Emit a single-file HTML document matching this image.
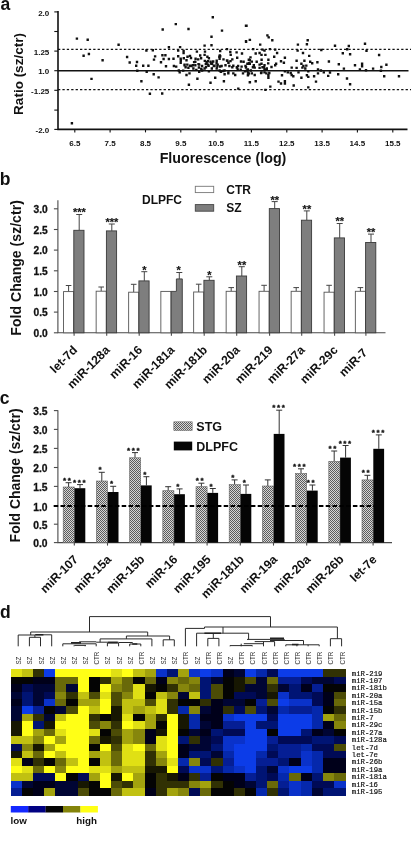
<!DOCTYPE html>
<html><head><meta charset="utf-8"><title>Figure</title>
<style>html,body{margin:0;padding:0;background:#fff}svg{display:block}text{font-family:"Liberation Sans", sans-serif;fill:#111}</style>
</head><body>
<svg width="411" height="859" viewBox="0 0 411 859">
<rect width="411" height="859" fill="#fff"/>
<g id="pa">
<text x="0.5" y="9.9" font-size="17.5" font-weight="bold">a</text>
<path d="M58.0 11V130.20000000000002M58.0 129.4H407.5" stroke="#111" stroke-width="1.6" fill="none"/>
<path d="M54.3 11.9H58.0" stroke="#111" stroke-width="1.1"/>
<text x="49.3" y="15.6" font-size="8" font-weight="bold" text-anchor="end">2.0</text>
<path d="M54.3 31.5H58.0" stroke="#111" stroke-width="1.1"/>
<path d="M54.3 51.1H58.0" stroke="#111" stroke-width="1.1"/>
<text x="49.3" y="54.8" font-size="8" font-weight="bold" text-anchor="end">1.25</text>
<path d="M54.3 70.7H58.0" stroke="#111" stroke-width="1.1"/>
<text x="49.3" y="74.4" font-size="8" font-weight="bold" text-anchor="end">1.0</text>
<path d="M54.3 90.3H58.0" stroke="#111" stroke-width="1.1"/>
<text x="49.3" y="94.0" font-size="8" font-weight="bold" text-anchor="end">-1.25</text>
<path d="M54.3 110.1H58.0" stroke="#111" stroke-width="1.1"/>
<path d="M54.3 129.4H58.0" stroke="#111" stroke-width="1.1"/>
<text x="49.3" y="133.1" font-size="8" font-weight="bold" text-anchor="end">-2.0</text>
<path d="M74.8 129.4V132.4" stroke="#111" stroke-width="1.1"/>
<text x="74.8" y="146.4" font-size="8" font-weight="bold" text-anchor="middle">6.5</text>
<path d="M110.1 129.4V132.4" stroke="#111" stroke-width="1.1"/>
<text x="110.1" y="146.4" font-size="8" font-weight="bold" text-anchor="middle">7.5</text>
<path d="M145.5 129.4V132.4" stroke="#111" stroke-width="1.1"/>
<text x="145.5" y="146.4" font-size="8" font-weight="bold" text-anchor="middle">8.5</text>
<path d="M180.8 129.4V132.4" stroke="#111" stroke-width="1.1"/>
<text x="180.8" y="146.4" font-size="8" font-weight="bold" text-anchor="middle">9.5</text>
<path d="M216.1 129.4V132.4" stroke="#111" stroke-width="1.1"/>
<text x="216.1" y="146.4" font-size="8" font-weight="bold" text-anchor="middle">10.5</text>
<path d="M251.4 129.4V132.4" stroke="#111" stroke-width="1.1"/>
<text x="251.4" y="146.4" font-size="8" font-weight="bold" text-anchor="middle">11.5</text>
<path d="M286.8 129.4V132.4" stroke="#111" stroke-width="1.1"/>
<text x="286.8" y="146.4" font-size="8" font-weight="bold" text-anchor="middle">12.5</text>
<path d="M322.1 129.4V132.4" stroke="#111" stroke-width="1.1"/>
<text x="322.1" y="146.4" font-size="8" font-weight="bold" text-anchor="middle">13.5</text>
<path d="M357.4 129.4V132.4" stroke="#111" stroke-width="1.1"/>
<text x="357.4" y="146.4" font-size="8" font-weight="bold" text-anchor="middle">14.5</text>
<path d="M392.8 129.4V132.4" stroke="#111" stroke-width="1.1"/>
<text x="392.8" y="146.4" font-size="8" font-weight="bold" text-anchor="middle">15.5</text>
<path d="M58.0 70.7H408.5" stroke="#111" stroke-width="1.5"/>
<path d="M58.0 49.3H411M58.0 89.6H411" stroke="#111" stroke-width="1.35" stroke-dasharray="2.3 2.1"/>
<text transform="translate(23.1,74) rotate(-90)" font-size="13.5" font-weight="bold" text-anchor="middle">Ratio (sz/ctr)</text>
<text x="223" y="163.3" font-size="14.25" font-weight="bold" text-anchor="middle">Fluorescence (log)</text>
<path d="M75.7 37.4h2.4v2.4h-2.4zM86.5 38.5h2.4v2.4h-2.4zM82.4 54.6h2.4v2.4h-2.4zM87.7 52.8h2.4v2.4h-2.4zM101.4 59.0h2.4v2.4h-2.4zM90.3 77.7h2.4v2.4h-2.4zM70.7 122.0h2.4v2.4h-2.4zM117.4 43.5h2.4v2.4h-2.4zM125.9 55.8h2.4v2.4h-2.4zM128.5 61.3h2.4v2.4h-2.4zM135.8 60.8h2.4v2.4h-2.4zM135.0 64.5h2.4v2.4h-2.4zM142.0 64.5h2.4v2.4h-2.4zM147.2 64.5h2.4v2.4h-2.4zM136.1 69.5h2.4v2.4h-2.4zM145.5 70.7h2.4v2.4h-2.4zM140.2 80.0h2.4v2.4h-2.4zM152.5 73.0h2.4v2.4h-2.4zM157.4 76.2h2.4v2.4h-2.4zM148.7 92.6h2.4v2.4h-2.4zM161.0 92.3h2.4v2.4h-2.4zM145.2 49.3h2.4v2.4h-2.4zM151.6 49.1h2.4v2.4h-2.4zM153.9 55.2h2.4v2.4h-2.4zM152.8 58.4h2.4v2.4h-2.4zM161.5 28.3h2.4v2.4h-2.4zM167.7 46.1h2.4v2.4h-2.4zM161.2 54.0h2.4v2.4h-2.4zM164.2 54.0h2.4v2.4h-2.4zM162.4 57.8h2.4v2.4h-2.4zM159.8 61.0h2.4v2.4h-2.4zM167.7 57.8h2.4v2.4h-2.4zM164.8 65.1h2.4v2.4h-2.4zM211.6 16.1h2.4v2.4h-2.4zM174.6 22.9h2.4v2.4h-2.4zM187.3 27.8h2.4v2.4h-2.4zM220.8 29.4h2.4v2.4h-2.4zM245.3 24.5h2.4v2.4h-2.4zM210.3 35.6h2.4v2.4h-2.4zM244.9 40.5h2.4v2.4h-2.4zM248.6 38.7h2.4v2.4h-2.4zM203.4 44.4h2.4v2.4h-2.4zM210.3 44.0h2.4v2.4h-2.4zM178.9 45.9h2.4v2.4h-2.4zM177.0 49.4h2.4v2.4h-2.4zM182.4 49.8h2.4v2.4h-2.4zM182.4 51.8h2.4v2.4h-2.4zM195.7 50.4h2.4v2.4h-2.4zM203.8 50.4h2.4v2.4h-2.4zM225.8 47.9h2.4v2.4h-2.4zM219.0 49.8h2.4v2.4h-2.4zM229.1 50.8h2.4v2.4h-2.4zM235.4 51.2h2.4v2.4h-2.4zM240.8 52.3h2.4v2.4h-2.4zM199.0 54.3h2.4v2.4h-2.4zM203.4 53.7h2.4v2.4h-2.4zM188.8 54.7h2.4v2.4h-2.4zM186.3 55.6h2.4v2.4h-2.4zM177.0 55.1h2.4v2.4h-2.4zM206.2 55.6h2.4v2.4h-2.4zM219.0 55.1h2.4v2.4h-2.4zM229.5 53.7h2.4v2.4h-2.4zM172.3 57.6h2.4v2.4h-2.4zM179.5 57.6h2.4v2.4h-2.4zM185.3 59.0h2.4v2.4h-2.4zM194.1 60.5h2.4v2.4h-2.4zM197.0 58.2h2.4v2.4h-2.4zM199.9 57.0h2.4v2.4h-2.4zM207.7 57.0h2.4v2.4h-2.4zM215.5 59.5h2.4v2.4h-2.4zM218.4 57.6h2.4v2.4h-2.4zM222.3 58.2h2.4v2.4h-2.4zM226.2 59.5h2.4v2.4h-2.4zM227.2 61.5h2.4v2.4h-2.4zM231.1 58.2h2.4v2.4h-2.4zM236.0 56.6h2.4v2.4h-2.4zM242.4 60.5h2.4v2.4h-2.4zM247.6 58.6h2.4v2.4h-2.4zM172.7 64.8h2.4v2.4h-2.4zM175.0 65.4h2.4v2.4h-2.4zM183.4 63.4h2.4v2.4h-2.4zM184.4 66.0h2.4v2.4h-2.4zM190.2 64.8h2.4v2.4h-2.4zM194.1 64.0h2.4v2.4h-2.4zM198.0 63.4h2.4v2.4h-2.4zM200.9 64.8h2.4v2.4h-2.4zM204.8 66.0h2.4v2.4h-2.4zM210.6 62.5h2.4v2.4h-2.4zM212.6 64.8h2.4v2.4h-2.4zM216.5 63.4h2.4v2.4h-2.4zM220.4 64.8h2.4v2.4h-2.4zM224.3 64.0h2.4v2.4h-2.4zM228.2 64.8h2.4v2.4h-2.4zM231.1 66.0h2.4v2.4h-2.4zM236.9 64.8h2.4v2.4h-2.4zM244.3 64.8h2.4v2.4h-2.4zM248.6 62.5h2.4v2.4h-2.4zM177.6 69.3h2.4v2.4h-2.4zM178.5 71.2h2.4v2.4h-2.4zM192.2 67.3h2.4v2.4h-2.4zM195.1 68.7h2.4v2.4h-2.4zM198.0 70.6h2.4v2.4h-2.4zM200.9 69.3h2.4v2.4h-2.4zM207.7 70.2h2.4v2.4h-2.4zM210.6 67.3h2.4v2.4h-2.4zM218.4 69.3h2.4v2.4h-2.4zM223.3 69.3h2.4v2.4h-2.4zM227.2 71.2h2.4v2.4h-2.4zM232.1 72.2h2.4v2.4h-2.4zM234.0 73.8h2.4v2.4h-2.4zM236.5 68.3h2.4v2.4h-2.4zM241.8 72.2h2.4v2.4h-2.4zM245.7 69.3h2.4v2.4h-2.4zM247.6 72.2h2.4v2.4h-2.4zM188.3 72.2h2.4v2.4h-2.4zM203.4 67.3h2.4v2.4h-2.4zM215.5 67.3h2.4v2.4h-2.4zM196.2 77.6h2.4v2.4h-2.4zM214.0 76.5h2.4v2.4h-2.4zM187.7 83.5h2.4v2.4h-2.4zM209.3 81.5h2.4v2.4h-2.4zM222.7 80.0h2.4v2.4h-2.4zM237.1 87.4h2.4v2.4h-2.4zM248.6 81.0h2.4v2.4h-2.4zM244.8 24.5h2.4v2.4h-2.4zM266.2 34.2h2.4v2.4h-2.4zM267.5 36.2h2.4v2.4h-2.4zM271.1 39.1h2.4v2.4h-2.4zM248.7 38.7h2.4v2.4h-2.4zM244.8 40.1h2.4v2.4h-2.4zM259.0 43.4h2.4v2.4h-2.4zM296.7 43.4h2.4v2.4h-2.4zM306.5 39.1h2.4v2.4h-2.4zM305.7 43.0h2.4v2.4h-2.4zM252.0 47.9h2.4v2.4h-2.4zM261.3 48.4h2.4v2.4h-2.4zM263.3 49.4h2.4v2.4h-2.4zM268.7 47.9h2.4v2.4h-2.4zM274.0 48.4h2.4v2.4h-2.4zM296.4 49.4h2.4v2.4h-2.4zM320.1 48.8h2.4v2.4h-2.4zM254.5 52.3h2.4v2.4h-2.4zM258.4 51.8h2.4v2.4h-2.4zM260.3 53.7h2.4v2.4h-2.4zM264.2 53.7h2.4v2.4h-2.4zM275.9 51.8h2.4v2.4h-2.4zM301.8 51.8h2.4v2.4h-2.4zM308.0 54.7h2.4v2.4h-2.4zM249.3 56.2h2.4v2.4h-2.4zM248.7 59.0h2.4v2.4h-2.4zM255.5 60.5h2.4v2.4h-2.4zM267.2 58.6h2.4v2.4h-2.4zM273.0 55.6h2.4v2.4h-2.4zM283.7 56.6h2.4v2.4h-2.4zM295.4 59.5h2.4v2.4h-2.4zM279.8 60.1h2.4v2.4h-2.4zM282.7 61.5h2.4v2.4h-2.4zM303.2 59.5h2.4v2.4h-2.4zM309.0 60.5h2.4v2.4h-2.4zM311.0 62.1h2.4v2.4h-2.4zM316.2 61.1h2.4v2.4h-2.4zM247.7 62.1h2.4v2.4h-2.4zM252.6 64.0h2.4v2.4h-2.4zM258.4 63.4h2.4v2.4h-2.4zM260.3 62.5h2.4v2.4h-2.4zM263.3 64.0h2.4v2.4h-2.4zM274.0 64.0h2.4v2.4h-2.4zM300.2 62.5h2.4v2.4h-2.4zM302.2 64.8h2.4v2.4h-2.4zM305.1 64.4h2.4v2.4h-2.4zM244.8 66.4h2.4v2.4h-2.4zM246.7 68.3h2.4v2.4h-2.4zM249.6 69.3h2.4v2.4h-2.4zM253.5 66.4h2.4v2.4h-2.4zM258.4 66.7h2.4v2.4h-2.4zM261.3 66.0h2.4v2.4h-2.4zM263.3 68.3h2.4v2.4h-2.4zM265.6 67.3h2.4v2.4h-2.4zM290.5 66.4h2.4v2.4h-2.4zM295.4 66.7h2.4v2.4h-2.4zM301.2 66.4h2.4v2.4h-2.4zM304.1 67.3h2.4v2.4h-2.4zM243.8 70.2h2.4v2.4h-2.4zM246.7 71.2h2.4v2.4h-2.4zM250.6 72.2h2.4v2.4h-2.4zM260.3 71.2h2.4v2.4h-2.4zM263.3 71.2h2.4v2.4h-2.4zM265.2 72.2h2.4v2.4h-2.4zM268.1 71.8h2.4v2.4h-2.4zM283.7 70.2h2.4v2.4h-2.4zM286.6 71.2h2.4v2.4h-2.4zM289.5 71.8h2.4v2.4h-2.4zM297.3 71.2h2.4v2.4h-2.4zM307.1 70.2h2.4v2.4h-2.4zM316.8 68.3h2.4v2.4h-2.4zM319.7 69.3h2.4v2.4h-2.4zM322.6 71.2h2.4v2.4h-2.4zM316.8 72.2h2.4v2.4h-2.4zM246.7 74.1h2.4v2.4h-2.4zM253.5 73.8h2.4v2.4h-2.4zM267.2 74.1h2.4v2.4h-2.4zM267.2 76.5h2.4v2.4h-2.4zM280.8 74.1h2.4v2.4h-2.4zM290.5 73.8h2.4v2.4h-2.4zM292.1 75.1h2.4v2.4h-2.4zM300.2 76.5h2.4v2.4h-2.4zM305.7 74.1h2.4v2.4h-2.4zM307.1 75.7h2.4v2.4h-2.4zM312.9 75.1h2.4v2.4h-2.4zM248.7 81.0h2.4v2.4h-2.4zM254.5 80.0h2.4v2.4h-2.4zM277.3 80.4h2.4v2.4h-2.4zM279.8 82.3h2.4v2.4h-2.4zM283.7 80.0h2.4v2.4h-2.4zM283.7 82.3h2.4v2.4h-2.4zM292.5 84.3h2.4v2.4h-2.4zM314.8 80.4h2.4v2.4h-2.4zM269.1 85.4h2.4v2.4h-2.4zM264.2 88.7h2.4v2.4h-2.4zM307.1 86.2h2.4v2.4h-2.4zM333.8 44.5h2.4v2.4h-2.4zM347.6 44.8h2.4v2.4h-2.4zM346.0 48.1h2.4v2.4h-2.4zM363.8 42.5h2.4v2.4h-2.4zM365.3 49.6h2.4v2.4h-2.4zM341.6 52.1h2.4v2.4h-2.4zM348.9 53.0h2.4v2.4h-2.4zM377.9 53.8h2.4v2.4h-2.4zM327.7 60.3h2.4v2.4h-2.4zM337.6 63.1h2.4v2.4h-2.4zM353.8 64.0h2.4v2.4h-2.4zM360.9 62.5h2.4v2.4h-2.4zM360.9 65.1h2.4v2.4h-2.4zM385.2 63.6h2.4v2.4h-2.4zM380.1 65.8h2.4v2.4h-2.4zM342.7 67.4h2.4v2.4h-2.4zM358.7 68.2h2.4v2.4h-2.4zM364.8 69.1h2.4v2.4h-2.4zM371.9 67.4h2.4v2.4h-2.4zM379.7 69.6h2.4v2.4h-2.4zM328.8 71.3h2.4v2.4h-2.4zM327.0 74.7h2.4v2.4h-2.4zM337.0 73.1h2.4v2.4h-2.4zM383.0 75.1h2.4v2.4h-2.4zM397.8 75.1h2.4v2.4h-2.4zM345.8 77.3h2.4v2.4h-2.4zM348.9 83.1h2.4v2.4h-2.4zM200.1 67.7h2.4v2.4h-2.4zM182.0 69.4h2.4v2.4h-2.4zM215.4 62.1h2.4v2.4h-2.4zM213.3 64.6h2.4v2.4h-2.4zM179.5 61.5h2.4v2.4h-2.4zM183.3 64.1h2.4v2.4h-2.4zM207.4 64.5h2.4v2.4h-2.4zM192.9 60.9h2.4v2.4h-2.4zM222.0 69.8h2.4v2.4h-2.4zM205.4 61.1h2.4v2.4h-2.4zM247.1 73.1h2.4v2.4h-2.4zM197.7 66.3h2.4v2.4h-2.4zM187.2 66.6h2.4v2.4h-2.4zM235.6 66.3h2.4v2.4h-2.4zM189.8 56.8h2.4v2.4h-2.4zM203.6 59.7h2.4v2.4h-2.4zM216.2 65.0h2.4v2.4h-2.4zM191.6 64.0h2.4v2.4h-2.4zM225.8 59.2h2.4v2.4h-2.4zM219.0 65.3h2.4v2.4h-2.4zM209.4 60.5h2.4v2.4h-2.4zM227.1 72.1h2.4v2.4h-2.4zM194.4 57.6h2.4v2.4h-2.4zM239.8 60.4h2.4v2.4h-2.4zM229.3 59.9h2.4v2.4h-2.4zM185.3 73.8h2.4v2.4h-2.4zM206.9 63.4h2.4v2.4h-2.4zM212.0 60.3h2.4v2.4h-2.4zM179.6 59.0h2.4v2.4h-2.4zM218.1 55.6h2.4v2.4h-2.4zM239.8 60.2h2.4v2.4h-2.4zM219.6 70.7h2.4v2.4h-2.4zM218.6 54.3h2.4v2.4h-2.4zM244.8 66.0h2.4v2.4h-2.4zM210.9 62.4h2.4v2.4h-2.4zM227.3 61.7h2.4v2.4h-2.4zM223.4 73.0h2.4v2.4h-2.4zM197.3 62.9h2.4v2.4h-2.4zM204.6 62.8h2.4v2.4h-2.4zM210.0 62.3h2.4v2.4h-2.4zM188.9 64.6h2.4v2.4h-2.4zM232.1 64.5h2.4v2.4h-2.4zM186.1 63.4h2.4v2.4h-2.4zM239.5 68.5h2.4v2.4h-2.4zM182.6 57.1h2.4v2.4h-2.4zM240.4 65.4h2.4v2.4h-2.4zM235.8 66.1h2.4v2.4h-2.4zM206.7 60.1h2.4v2.4h-2.4zM259.9 71.8h2.4v2.4h-2.4zM250.6 60.4h2.4v2.4h-2.4zM251.7 66.1h2.4v2.4h-2.4zM265.6 68.1h2.4v2.4h-2.4zM270.3 65.8h2.4v2.4h-2.4zM262.7 66.1h2.4v2.4h-2.4zM260.4 58.6h2.4v2.4h-2.4zM274.9 62.6h2.4v2.4h-2.4zM267.0 62.2h2.4v2.4h-2.4zM246.2 62.6h2.4v2.4h-2.4z" fill="#111"/>
</g>
<g id="pb">
<text x="-0.3" y="184.8" font-size="17.5" font-weight="bold">b</text>
<path d="M57.9 200.3V332.8H385.5" stroke="#4a4a4a" stroke-width="1.1" fill="none"/>
<path d="M53.9 332.8H57.9" stroke="#4a4a4a" stroke-width="1.1"/>
<text x="47.7" y="337.1" font-size="11.2" font-weight="bold" text-anchor="end" textLength="14.2" lengthAdjust="spacingAndGlyphs" stroke="#111" stroke-width="0.3">0.0</text>
<path d="M53.9 312.1H57.9" stroke="#4a4a4a" stroke-width="1.1"/>
<text x="47.7" y="316.4" font-size="11.2" font-weight="bold" text-anchor="end" textLength="14.2" lengthAdjust="spacingAndGlyphs" stroke="#111" stroke-width="0.3">0.5</text>
<path d="M53.9 291.5H57.9" stroke="#4a4a4a" stroke-width="1.1"/>
<text x="47.7" y="295.8" font-size="11.2" font-weight="bold" text-anchor="end" textLength="14.2" lengthAdjust="spacingAndGlyphs" stroke="#111" stroke-width="0.3">1.0</text>
<path d="M53.9 270.8H57.9" stroke="#4a4a4a" stroke-width="1.1"/>
<text x="47.7" y="275.1" font-size="11.2" font-weight="bold" text-anchor="end" textLength="14.2" lengthAdjust="spacingAndGlyphs" stroke="#111" stroke-width="0.3">1.5</text>
<path d="M53.9 250.1H57.9" stroke="#4a4a4a" stroke-width="1.1"/>
<text x="47.7" y="254.4" font-size="11.2" font-weight="bold" text-anchor="end" textLength="14.2" lengthAdjust="spacingAndGlyphs" stroke="#111" stroke-width="0.3">2.0</text>
<path d="M53.9 229.5H57.9" stroke="#4a4a4a" stroke-width="1.1"/>
<text x="47.7" y="233.8" font-size="11.2" font-weight="bold" text-anchor="end" textLength="14.2" lengthAdjust="spacingAndGlyphs" stroke="#111" stroke-width="0.3">2.5</text>
<path d="M53.9 208.8H57.9" stroke="#4a4a4a" stroke-width="1.1"/>
<text x="47.7" y="213.1" font-size="11.2" font-weight="bold" text-anchor="end" textLength="14.2" lengthAdjust="spacingAndGlyphs" stroke="#111" stroke-width="0.3">3.0</text>
<text transform="translate(20.9,267.9) rotate(-90)" font-size="14.1" font-weight="bold" text-anchor="middle">Fold Change (sz/ctr)</text>
<path d="M68.6 291.6V285.5M65.8 285.5h5.6" stroke="#444" stroke-width="1" fill="none"/>
<path d="M79.2 230.3V214.5M76.2 214.5h6" stroke="#444" stroke-width="1" fill="none"/>
<rect x="63.55" y="291.6" width="10.1" height="41.2" fill="#fff" stroke="#555" stroke-width="0.9"/>
<rect x="73.80" y="230.3" width="10.2" height="102.5" fill="#7e7e7e" stroke="#3a3a3a" stroke-width="0.9"/>
<text x="79.3" y="216.4" font-size="11" font-weight="bold" text-anchor="middle" stroke="#111" stroke-width="0.15">***</text>
<path d="M74.1 332.8v3" stroke="#4a4a4a" stroke-width="1.1"/>
<text transform="translate(78.0,350.8) rotate(-45)" font-size="12.2" font-weight="bold" text-anchor="end">let-7d</text>
<path d="M101.2 291.2V287M98.4 287h5.6" stroke="#444" stroke-width="1" fill="none"/>
<path d="M111.8 230.9V224M108.8 224h6" stroke="#444" stroke-width="1" fill="none"/>
<rect x="96.15" y="291.2" width="10.1" height="41.6" fill="#fff" stroke="#555" stroke-width="0.9"/>
<rect x="106.40" y="230.9" width="10.2" height="101.9" fill="#7e7e7e" stroke="#3a3a3a" stroke-width="0.9"/>
<text x="111.9" y="225.9" font-size="11" font-weight="bold" text-anchor="middle" stroke="#111" stroke-width="0.15">***</text>
<path d="M106.7 332.8v3" stroke="#4a4a4a" stroke-width="1.1"/>
<text transform="translate(110.6,350.8) rotate(-45)" font-size="12.2" font-weight="bold" text-anchor="end">miR-128a</text>
<path d="M133.7 292.2V284.3M130.9 284.3h5.6" stroke="#444" stroke-width="1" fill="none"/>
<path d="M144.3 280.9V271.7M141.3 271.7h6" stroke="#444" stroke-width="1" fill="none"/>
<rect x="128.65" y="292.2" width="10.1" height="40.6" fill="#fff" stroke="#555" stroke-width="0.9"/>
<rect x="138.90" y="280.9" width="10.2" height="51.9" fill="#7e7e7e" stroke="#3a3a3a" stroke-width="0.9"/>
<text x="144.4" y="273.6" font-size="11" font-weight="bold" text-anchor="middle" stroke="#111" stroke-width="0.15">*</text>
<path d="M139.2 332.8v3" stroke="#4a4a4a" stroke-width="1.1"/>
<text transform="translate(143.1,350.8) rotate(-45)" font-size="12.2" font-weight="bold" text-anchor="end">miR-16</text>
<path d="M179.3 278.9V272.5M176.3 272.5h6" stroke="#444" stroke-width="1" fill="none"/>
<rect x="160.85" y="291.4" width="10.1" height="41.4" fill="#fff" stroke="#555" stroke-width="0.9"/>
<path d="M171.2 332.8V291.4H176.4V278.9H182.3V332.8z" fill="#7e7e7e" stroke="#3a3a3a" stroke-width="0.9"/>
<text x="178.6" y="274.4" font-size="11" font-weight="bold" text-anchor="middle" stroke="#111" stroke-width="0.15">*</text>
<path d="M171.4 332.8v3" stroke="#4a4a4a" stroke-width="1.1"/>
<text transform="translate(175.3,350.8) rotate(-45)" font-size="12.2" font-weight="bold" text-anchor="end">miR-181a</text>
<path d="M198.7 292V284.2M195.9 284.2h5.6" stroke="#444" stroke-width="1" fill="none"/>
<path d="M209.3 280.3V276.8M206.3 276.8h6" stroke="#444" stroke-width="1" fill="none"/>
<rect x="193.65" y="292" width="10.1" height="40.8" fill="#fff" stroke="#555" stroke-width="0.9"/>
<rect x="203.90" y="280.3" width="10.2" height="52.5" fill="#7e7e7e" stroke="#3a3a3a" stroke-width="0.9"/>
<text x="209.4" y="278.7" font-size="11" font-weight="bold" text-anchor="middle" stroke="#111" stroke-width="0.15">*</text>
<path d="M204.2 332.8v3" stroke="#4a4a4a" stroke-width="1.1"/>
<text transform="translate(208.1,350.8) rotate(-45)" font-size="12.2" font-weight="bold" text-anchor="end">miR-181b</text>
<path d="M231.2 291.3V287.6M228.4 287.6h5.6" stroke="#444" stroke-width="1" fill="none"/>
<path d="M241.8 276V266.7M238.8 266.7h6" stroke="#444" stroke-width="1" fill="none"/>
<rect x="226.15" y="291.3" width="10.1" height="41.5" fill="#fff" stroke="#555" stroke-width="0.9"/>
<rect x="236.40" y="276" width="10.2" height="56.8" fill="#7e7e7e" stroke="#3a3a3a" stroke-width="0.9"/>
<text x="241.9" y="268.6" font-size="11" font-weight="bold" text-anchor="middle" stroke="#111" stroke-width="0.15">**</text>
<path d="M236.7 332.8v3" stroke="#4a4a4a" stroke-width="1.1"/>
<text transform="translate(240.6,350.8) rotate(-45)" font-size="12.2" font-weight="bold" text-anchor="end">miR-20a</text>
<path d="M264.1 291.3V285.3M261.3 285.3h5.6" stroke="#444" stroke-width="1" fill="none"/>
<path d="M274.7 208.6V201.6M271.7 201.6h6" stroke="#444" stroke-width="1" fill="none"/>
<rect x="259.05" y="291.3" width="10.1" height="41.5" fill="#fff" stroke="#555" stroke-width="0.9"/>
<rect x="269.30" y="208.6" width="10.2" height="124.2" fill="#7e7e7e" stroke="#3a3a3a" stroke-width="0.9"/>
<text x="274.8" y="203.5" font-size="11" font-weight="bold" text-anchor="middle" stroke="#111" stroke-width="0.15">**</text>
<path d="M269.6 332.8v3" stroke="#4a4a4a" stroke-width="1.1"/>
<text transform="translate(273.5,350.8) rotate(-45)" font-size="12.2" font-weight="bold" text-anchor="end">miR-219</text>
<path d="M296.2 291.3V287.6M293.4 287.6h5.6" stroke="#444" stroke-width="1" fill="none"/>
<path d="M306.8 220.2V210.9M303.8 210.9h6" stroke="#444" stroke-width="1" fill="none"/>
<rect x="291.15" y="291.3" width="10.1" height="41.5" fill="#fff" stroke="#555" stroke-width="0.9"/>
<rect x="301.40" y="220.2" width="10.2" height="112.6" fill="#7e7e7e" stroke="#3a3a3a" stroke-width="0.9"/>
<text x="306.9" y="212.8" font-size="11" font-weight="bold" text-anchor="middle" stroke="#111" stroke-width="0.15">**</text>
<path d="M301.7 332.8v3" stroke="#4a4a4a" stroke-width="1.1"/>
<text transform="translate(305.6,350.8) rotate(-45)" font-size="12.2" font-weight="bold" text-anchor="end">miR-27a</text>
<path d="M329.1 292.2V285.3M326.3 285.3h5.6" stroke="#444" stroke-width="1" fill="none"/>
<path d="M339.7 237.9V223.5M336.7 223.5h6" stroke="#444" stroke-width="1" fill="none"/>
<rect x="324.05" y="292.2" width="10.1" height="40.6" fill="#fff" stroke="#555" stroke-width="0.9"/>
<rect x="334.30" y="237.9" width="10.2" height="94.9" fill="#7e7e7e" stroke="#3a3a3a" stroke-width="0.9"/>
<text x="339.8" y="225.4" font-size="11" font-weight="bold" text-anchor="middle" stroke="#111" stroke-width="0.15">**</text>
<path d="M334.6 332.8v3" stroke="#4a4a4a" stroke-width="1.1"/>
<text transform="translate(338.5,350.8) rotate(-45)" font-size="12.2" font-weight="bold" text-anchor="end">miR-29c</text>
<path d="M360.4 291.3V287.6M357.6 287.6h5.6" stroke="#444" stroke-width="1" fill="none"/>
<path d="M371.0 242.5V234.1M368.0 234.1h6" stroke="#444" stroke-width="1" fill="none"/>
<rect x="355.35" y="291.3" width="10.1" height="41.5" fill="#fff" stroke="#555" stroke-width="0.9"/>
<rect x="365.60" y="242.5" width="10.2" height="90.3" fill="#7e7e7e" stroke="#3a3a3a" stroke-width="0.9"/>
<text x="371.1" y="236.0" font-size="11" font-weight="bold" text-anchor="middle" stroke="#111" stroke-width="0.15">**</text>
<path d="M365.9 332.8v3" stroke="#4a4a4a" stroke-width="1.1"/>
<text transform="translate(368.0,353.40000000000003) rotate(-45)" font-size="12.2" font-weight="bold" text-anchor="end">miR-7</text>
<text x="142" y="203.6" font-size="12" font-weight="bold">DLPFC</text>
<rect x="195.3" y="186.3" width="18.4" height="6.3" fill="#fff" stroke="#777" stroke-width="0.9"/>
<rect x="195.3" y="204.6" width="18.4" height="6.6" fill="#7e7e7e" stroke="#444" stroke-width="0.9"/>
<text x="226.3" y="194.2" font-size="12" font-weight="bold">CTR</text>
<text x="226.3" y="212.4" font-size="12" font-weight="bold">SZ</text>
</g>
<g id="pc">
<defs><pattern id="stip" width="2" height="2" patternUnits="userSpaceOnUse"><rect width="2" height="2" fill="#d6d6d6"/><rect width="1" height="1" fill="#5c5c5c"/><rect x="1" y="1" width="1" height="1" fill="#5c5c5c"/></pattern></defs>
<text x="-0.2" y="404.2" font-size="17.5" font-weight="bold">c</text>
<path d="M57.9 410.3V542.6H392" stroke="#4a4a4a" stroke-width="1.1" fill="none"/>
<path d="M53.9 542.6H57.9" stroke="#4a4a4a" stroke-width="1.1"/>
<text x="47.599999999999994" y="547.4" font-size="11.2" font-weight="bold" text-anchor="end" textLength="14.3" lengthAdjust="spacingAndGlyphs" stroke="#111" stroke-width="0.3">0.0</text>
<path d="M53.9 524.2H57.9" stroke="#4a4a4a" stroke-width="1.1"/>
<text x="47.599999999999994" y="529.0" font-size="11.2" font-weight="bold" text-anchor="end" textLength="14.3" lengthAdjust="spacingAndGlyphs" stroke="#111" stroke-width="0.3">0.5</text>
<path d="M53.9 505.8H57.9" stroke="#4a4a4a" stroke-width="1.1"/>
<text x="47.599999999999994" y="510.6" font-size="11.2" font-weight="bold" text-anchor="end" textLength="14.3" lengthAdjust="spacingAndGlyphs" stroke="#111" stroke-width="0.3">1.0</text>
<path d="M53.9 486.4H57.9" stroke="#4a4a4a" stroke-width="1.1"/>
<text x="47.599999999999994" y="491.2" font-size="11.2" font-weight="bold" text-anchor="end" textLength="14.3" lengthAdjust="spacingAndGlyphs" stroke="#111" stroke-width="0.3">1.5</text>
<path d="M53.9 467.5H57.9" stroke="#4a4a4a" stroke-width="1.1"/>
<text x="47.599999999999994" y="472.3" font-size="11.2" font-weight="bold" text-anchor="end" textLength="14.3" lengthAdjust="spacingAndGlyphs" stroke="#111" stroke-width="0.3">2.0</text>
<path d="M53.9 448.4H57.9" stroke="#4a4a4a" stroke-width="1.1"/>
<text x="47.599999999999994" y="453.2" font-size="11.2" font-weight="bold" text-anchor="end" textLength="14.3" lengthAdjust="spacingAndGlyphs" stroke="#111" stroke-width="0.3">2.5</text>
<path d="M53.9 429.4H57.9" stroke="#4a4a4a" stroke-width="1.1"/>
<text x="47.599999999999994" y="434.2" font-size="11.2" font-weight="bold" text-anchor="end" textLength="14.3" lengthAdjust="spacingAndGlyphs" stroke="#111" stroke-width="0.3">3.0</text>
<path d="M53.9 410.6H57.9" stroke="#4a4a4a" stroke-width="1.1"/>
<text x="47.599999999999994" y="415.4" font-size="11.2" font-weight="bold" text-anchor="end" textLength="14.3" lengthAdjust="spacingAndGlyphs" stroke="#111" stroke-width="0.3">3.5</text>
<text transform="translate(20.0,475.4) rotate(-90)" font-size="13.95" font-weight="bold" text-anchor="middle">Fold Change (sz/ctr)</text>
<path d="M68.6 487V482.7M65.6 482.7h6M80.0 488.2V484.6M77.0 484.6h6" stroke="#333" stroke-width="1" fill="none"/>
<rect x="63.2" y="487" width="11.1" height="55.6" fill="url(#stip)" stroke="#666" stroke-width="0.6"/>
<rect x="74.5" y="488.2" width="10.8" height="54.4" fill="#050505"/>
<text x="67.7" y="482.7" font-size="8" font-weight="bold" text-anchor="middle" letter-spacing="1.6" stroke="#111" stroke-width="0.35">**</text>
<text x="80.1" y="484.7" font-size="8" font-weight="bold" text-anchor="middle" letter-spacing="1.6" stroke="#111" stroke-width="0.35">***</text>
<path d="M74.3 542.6v3" stroke="#4a4a4a" stroke-width="1.1"/>
<text transform="translate(78.8,560.1) rotate(-45)" font-size="12.2" font-weight="bold" text-anchor="end">miR-107</text>
<path d="M101.8 481V472.3M98.8 472.3h6M113.2 492V486.3M110.2 486.3h6" stroke="#333" stroke-width="1" fill="none"/>
<rect x="96.4" y="481" width="11.1" height="61.6" fill="url(#stip)" stroke="#666" stroke-width="0.6"/>
<rect x="107.7" y="492" width="10.8" height="50.6" fill="#050505"/>
<text x="100.9" y="472.3" font-size="8" font-weight="bold" text-anchor="middle" letter-spacing="1.6" stroke="#111" stroke-width="0.35">*</text>
<text x="112.3" y="486.4" font-size="8" font-weight="bold" text-anchor="middle" letter-spacing="1.6" stroke="#111" stroke-width="0.35">*</text>
<path d="M107.5 542.6v3" stroke="#4a4a4a" stroke-width="1.1"/>
<text transform="translate(112.0,560.1) rotate(-45)" font-size="12.2" font-weight="bold" text-anchor="end">miR-15a</text>
<path d="M135.0 457.8V452.6M132.0 452.6h6M146.4 485.4V476.7M143.4 476.7h6" stroke="#333" stroke-width="1" fill="none"/>
<rect x="129.6" y="457.8" width="11.1" height="84.8" fill="url(#stip)" stroke="#666" stroke-width="0.6"/>
<rect x="140.9" y="485.4" width="10.8" height="57.2" fill="#050505"/>
<text x="134.1" y="452.6" font-size="8" font-weight="bold" text-anchor="middle" letter-spacing="1.6" stroke="#111" stroke-width="0.35">***</text>
<text x="145.5" y="476.8" font-size="8" font-weight="bold" text-anchor="middle" letter-spacing="1.6" stroke="#111" stroke-width="0.35">*</text>
<path d="M140.7 542.6v3" stroke="#4a4a4a" stroke-width="1.1"/>
<text transform="translate(145.2,560.1) rotate(-45)" font-size="12.2" font-weight="bold" text-anchor="end">miR-15b</text>
<path d="M168.2 490.7V486.7M165.2 486.7h6M179.6 494.2V488.9M176.6 488.9h6" stroke="#333" stroke-width="1" fill="none"/>
<rect x="162.8" y="490.7" width="11.1" height="51.9" fill="url(#stip)" stroke="#666" stroke-width="0.6"/>
<rect x="174.1" y="494.2" width="10.8" height="48.4" fill="#050505"/>
<text x="178.7" y="489.0" font-size="8" font-weight="bold" text-anchor="middle" letter-spacing="1.6" stroke="#111" stroke-width="0.35">*</text>
<path d="M173.9 542.6v3" stroke="#4a4a4a" stroke-width="1.1"/>
<text transform="translate(178.4,560.1) rotate(-45)" font-size="12.2" font-weight="bold" text-anchor="end">miR-16</text>
<path d="M201.4 486.7V483.2M198.4 483.2h6M212.8 492.9V488.5M209.8 488.5h6" stroke="#333" stroke-width="1" fill="none"/>
<rect x="196.0" y="486.7" width="11.1" height="55.9" fill="url(#stip)" stroke="#666" stroke-width="0.6"/>
<rect x="207.3" y="492.9" width="10.8" height="49.7" fill="#050505"/>
<text x="200.5" y="483.2" font-size="8" font-weight="bold" text-anchor="middle" letter-spacing="1.6" stroke="#111" stroke-width="0.35">**</text>
<text x="211.9" y="488.6" font-size="8" font-weight="bold" text-anchor="middle" letter-spacing="1.6" stroke="#111" stroke-width="0.35">*</text>
<path d="M207.1 542.6v3" stroke="#4a4a4a" stroke-width="1.1"/>
<text transform="translate(211.6,560.1) rotate(-45)" font-size="12.2" font-weight="bold" text-anchor="end">miR-195</text>
<path d="M234.6 484.6V479.9M231.6 479.9h6M246.0 493.9V485M243.0 485h6" stroke="#333" stroke-width="1" fill="none"/>
<rect x="229.2" y="484.6" width="11.1" height="58.0" fill="url(#stip)" stroke="#666" stroke-width="0.6"/>
<rect x="240.5" y="493.9" width="10.8" height="48.7" fill="#050505"/>
<text x="233.7" y="479.9" font-size="8" font-weight="bold" text-anchor="middle" letter-spacing="1.6" stroke="#111" stroke-width="0.35">*</text>
<text x="245.1" y="485.1" font-size="8" font-weight="bold" text-anchor="middle" letter-spacing="1.6" stroke="#111" stroke-width="0.35">*</text>
<path d="M240.3 542.6v3" stroke="#4a4a4a" stroke-width="1.1"/>
<text transform="translate(244.8,560.1) rotate(-45)" font-size="12.2" font-weight="bold" text-anchor="end">miR-181b</text>
<path d="M267.8 486V479.9M264.8 479.9h6M279.2 433.9V410.2M276.2 410.2h6" stroke="#333" stroke-width="1" fill="none"/>
<rect x="262.4" y="486" width="11.1" height="56.6" fill="url(#stip)" stroke="#666" stroke-width="0.6"/>
<rect x="273.7" y="433.9" width="10.8" height="108.7" fill="#050505"/>
<text x="279.3" y="410.3" font-size="8" font-weight="bold" text-anchor="middle" letter-spacing="1.6" stroke="#111" stroke-width="0.35">***</text>
<path d="M273.5 542.6v3" stroke="#4a4a4a" stroke-width="1.1"/>
<text transform="translate(278.0,560.1) rotate(-45)" font-size="12.2" font-weight="bold" text-anchor="end">miR-19a</text>
<path d="M301.0 473.4V468.8M298.0 468.8h6M312.4 490.6V485M309.4 485h6" stroke="#333" stroke-width="1" fill="none"/>
<rect x="295.6" y="473.4" width="11.1" height="69.2" fill="url(#stip)" stroke="#666" stroke-width="0.6"/>
<rect x="306.9" y="490.6" width="10.8" height="52.0" fill="#050505"/>
<text x="300.1" y="468.8" font-size="8" font-weight="bold" text-anchor="middle" letter-spacing="1.6" stroke="#111" stroke-width="0.35">***</text>
<text x="311.5" y="485.1" font-size="8" font-weight="bold" text-anchor="middle" letter-spacing="1.6" stroke="#111" stroke-width="0.35">**</text>
<path d="M306.7 542.6v3" stroke="#4a4a4a" stroke-width="1.1"/>
<text transform="translate(311.2,560.1) rotate(-45)" font-size="12.2" font-weight="bold" text-anchor="end">miR-20a</text>
<path d="M334.2 461.3V451M331.2 451h6M345.6 457.6V445.5M342.6 445.5h6" stroke="#333" stroke-width="1" fill="none"/>
<rect x="328.8" y="461.3" width="11.1" height="81.3" fill="url(#stip)" stroke="#666" stroke-width="0.6"/>
<rect x="340.1" y="457.6" width="10.8" height="85.0" fill="#050505"/>
<text x="333.3" y="451.0" font-size="8" font-weight="bold" text-anchor="middle" letter-spacing="1.6" stroke="#111" stroke-width="0.35">**</text>
<text x="345.7" y="445.6" font-size="8" font-weight="bold" text-anchor="middle" letter-spacing="1.6" stroke="#111" stroke-width="0.35">***</text>
<path d="M339.9 542.6v3" stroke="#4a4a4a" stroke-width="1.1"/>
<text transform="translate(344.4,560.1) rotate(-45)" font-size="12.2" font-weight="bold" text-anchor="end">miR-26b</text>
<path d="M367.4 479.9V475.3M364.4 475.3h6M378.8 448.8V434.9M375.8 434.9h6" stroke="#333" stroke-width="1" fill="none"/>
<rect x="362.0" y="479.9" width="11.1" height="62.7" fill="url(#stip)" stroke="#666" stroke-width="0.6"/>
<rect x="373.3" y="448.8" width="10.8" height="93.8" fill="#050505"/>
<text x="366.5" y="475.3" font-size="8" font-weight="bold" text-anchor="middle" letter-spacing="1.6" stroke="#111" stroke-width="0.35">**</text>
<text x="378.9" y="435.0" font-size="8" font-weight="bold" text-anchor="middle" letter-spacing="1.6" stroke="#111" stroke-width="0.35">***</text>
<path d="M373.1 542.6v3" stroke="#4a4a4a" stroke-width="1.1"/>
<text transform="translate(377.6,560.1) rotate(-45)" font-size="12.2" font-weight="bold" text-anchor="end">let-7e</text>
<path d="M53.699999999999996 505.9H374" stroke="#000" stroke-width="2" stroke-dasharray="4.5 2.3"/>
<rect x="173.8" y="421.8" width="18.4" height="8.8" fill="url(#stip)" stroke="#666" stroke-width="0.5"/>
<rect x="173.8" y="441.6" width="18.4" height="8.8" fill="#050505"/>
<text x="196.3" y="430.7" font-size="12.5" font-weight="bold">STG</text>
<text x="196.3" y="450.5" font-size="12.5" font-weight="bold">DLPFC</text>
</g>
<g id="pd">
<text x="0.1" y="618" font-size="17.5" font-weight="bold">d</text>
<g shape-rendering="crispEdges">
<rect x="10.7" y="669.2" width="334.5" height="126.5" fill="#000"/>
<rect x="10.70" y="669.20" width="11.45" height="7.74" fill="#e0e014"/>
<rect x="21.85" y="669.20" width="11.45" height="7.74" fill="#c1c111"/>
<rect x="33.00" y="669.20" width="11.45" height="7.74" fill="#313104"/>
<rect x="44.15" y="669.20" width="11.45" height="7.74" fill="#0c3ce8"/>
<rect x="55.30" y="669.20" width="11.45" height="7.74" fill="#ffff16"/>
<rect x="66.45" y="669.20" width="11.45" height="7.74" fill="#ffff16"/>
<rect x="77.60" y="669.20" width="11.45" height="7.74" fill="#ffff16"/>
<rect x="88.75" y="669.20" width="11.45" height="7.74" fill="#ffff16"/>
<rect x="99.90" y="669.20" width="11.45" height="7.74" fill="#ffff16"/>
<rect x="111.05" y="669.20" width="11.45" height="7.74" fill="#e0e014"/>
<rect x="122.20" y="669.20" width="11.45" height="7.74" fill="#ffff16"/>
<rect x="133.35" y="669.20" width="11.45" height="7.74" fill="#c1c111"/>
<rect x="144.50" y="669.20" width="11.45" height="7.74" fill="#a3a30e"/>
<rect x="155.65" y="669.20" width="11.45" height="7.74" fill="#0a32ca"/>
<rect x="166.80" y="669.20" width="11.45" height="7.74" fill="#001474"/>
<rect x="177.95" y="669.20" width="11.45" height="7.74" fill="#a3a30e"/>
<rect x="189.10" y="669.20" width="11.45" height="7.74" fill="#0a32ca"/>
<rect x="200.25" y="669.20" width="11.45" height="7.74" fill="#0c3ce8"/>
<rect x="211.40" y="669.20" width="11.45" height="7.74" fill="#0a32ca"/>
<rect x="222.55" y="669.20" width="11.45" height="7.74" fill="#00001a"/>
<rect x="233.70" y="669.20" width="11.45" height="7.74" fill="#000534"/>
<rect x="244.85" y="669.20" width="11.45" height="7.74" fill="#0c3ce8"/>
<rect x="256.00" y="669.20" width="11.45" height="7.74" fill="#0528ac"/>
<rect x="267.15" y="669.20" width="11.45" height="7.74" fill="#000a56"/>
<rect x="278.30" y="669.20" width="11.45" height="7.74" fill="#0c3ce8"/>
<rect x="289.45" y="669.20" width="11.45" height="7.74" fill="#0c3ce8"/>
<rect x="300.60" y="669.20" width="11.45" height="7.74" fill="#0c3ce8"/>
<rect x="311.75" y="669.20" width="11.45" height="7.74" fill="#0c3ce8"/>
<rect x="322.90" y="669.20" width="11.45" height="7.74" fill="#313104"/>
<rect x="334.05" y="669.20" width="11.45" height="7.74" fill="#313104"/>
<rect x="10.70" y="676.64" width="11.45" height="7.74" fill="#040404"/>
<rect x="21.85" y="676.64" width="11.45" height="7.74" fill="#040404"/>
<rect x="33.00" y="676.64" width="11.45" height="7.74" fill="#00001a"/>
<rect x="44.15" y="676.64" width="11.45" height="7.74" fill="#00001a"/>
<rect x="55.30" y="676.64" width="11.45" height="7.74" fill="#696909"/>
<rect x="66.45" y="676.64" width="11.45" height="7.74" fill="#696909"/>
<rect x="77.60" y="676.64" width="11.45" height="7.74" fill="#ffff16"/>
<rect x="88.75" y="676.64" width="11.45" height="7.74" fill="#040404"/>
<rect x="99.90" y="676.64" width="11.45" height="7.74" fill="#313104"/>
<rect x="111.05" y="676.64" width="11.45" height="7.74" fill="#a3a30e"/>
<rect x="122.20" y="676.64" width="11.45" height="7.74" fill="#696909"/>
<rect x="133.35" y="676.64" width="11.45" height="7.74" fill="#040404"/>
<rect x="144.50" y="676.64" width="11.45" height="7.74" fill="#696909"/>
<rect x="155.65" y="676.64" width="11.45" height="7.74" fill="#00001a"/>
<rect x="166.80" y="676.64" width="11.45" height="7.74" fill="#86860c"/>
<rect x="177.95" y="676.64" width="11.45" height="7.74" fill="#696909"/>
<rect x="189.10" y="676.64" width="11.45" height="7.74" fill="#86860c"/>
<rect x="200.25" y="676.64" width="11.45" height="7.74" fill="#001474"/>
<rect x="211.40" y="676.64" width="11.45" height="7.74" fill="#000534"/>
<rect x="222.55" y="676.64" width="11.45" height="7.74" fill="#040404"/>
<rect x="233.70" y="676.64" width="11.45" height="7.74" fill="#171702"/>
<rect x="244.85" y="676.64" width="11.45" height="7.74" fill="#4c4c06"/>
<rect x="256.00" y="676.64" width="11.45" height="7.74" fill="#000534"/>
<rect x="267.15" y="676.64" width="11.45" height="7.74" fill="#696909"/>
<rect x="278.30" y="676.64" width="11.45" height="7.74" fill="#051e94"/>
<rect x="289.45" y="676.64" width="11.45" height="7.74" fill="#051e94"/>
<rect x="300.60" y="676.64" width="11.45" height="7.74" fill="#000a56"/>
<rect x="311.75" y="676.64" width="11.45" height="7.74" fill="#000534"/>
<rect x="322.90" y="676.64" width="11.45" height="7.74" fill="#000534"/>
<rect x="334.05" y="676.64" width="11.45" height="7.74" fill="#000a56"/>
<rect x="10.70" y="684.08" width="11.45" height="7.74" fill="#00001a"/>
<rect x="21.85" y="684.08" width="11.45" height="7.74" fill="#000a56"/>
<rect x="33.00" y="684.08" width="11.45" height="7.74" fill="#000534"/>
<rect x="44.15" y="684.08" width="11.45" height="7.74" fill="#000534"/>
<rect x="55.30" y="684.08" width="11.45" height="7.74" fill="#696909"/>
<rect x="66.45" y="684.08" width="11.45" height="7.74" fill="#000534"/>
<rect x="77.60" y="684.08" width="11.45" height="7.74" fill="#ffff16"/>
<rect x="88.75" y="684.08" width="11.45" height="7.74" fill="#040404"/>
<rect x="99.90" y="684.08" width="11.45" height="7.74" fill="#ffff16"/>
<rect x="111.05" y="684.08" width="11.45" height="7.74" fill="#86860c"/>
<rect x="122.20" y="684.08" width="11.45" height="7.74" fill="#696909"/>
<rect x="133.35" y="684.08" width="11.45" height="7.74" fill="#e0e014"/>
<rect x="144.50" y="684.08" width="11.45" height="7.74" fill="#171702"/>
<rect x="155.65" y="684.08" width="11.45" height="7.74" fill="#040404"/>
<rect x="166.80" y="684.08" width="11.45" height="7.74" fill="#313104"/>
<rect x="177.95" y="684.08" width="11.45" height="7.74" fill="#86860c"/>
<rect x="189.10" y="684.08" width="11.45" height="7.74" fill="#696909"/>
<rect x="200.25" y="684.08" width="11.45" height="7.74" fill="#001474"/>
<rect x="211.40" y="684.08" width="11.45" height="7.74" fill="#4c4c06"/>
<rect x="222.55" y="684.08" width="11.45" height="7.74" fill="#040404"/>
<rect x="233.70" y="684.08" width="11.45" height="7.74" fill="#171702"/>
<rect x="244.85" y="684.08" width="11.45" height="7.74" fill="#000534"/>
<rect x="256.00" y="684.08" width="11.45" height="7.74" fill="#000534"/>
<rect x="267.15" y="684.08" width="11.45" height="7.74" fill="#313104"/>
<rect x="278.30" y="684.08" width="11.45" height="7.74" fill="#000534"/>
<rect x="289.45" y="684.08" width="11.45" height="7.74" fill="#001474"/>
<rect x="300.60" y="684.08" width="11.45" height="7.74" fill="#00001a"/>
<rect x="311.75" y="684.08" width="11.45" height="7.74" fill="#051e94"/>
<rect x="322.90" y="684.08" width="11.45" height="7.74" fill="#040404"/>
<rect x="334.05" y="684.08" width="11.45" height="7.74" fill="#040404"/>
<rect x="10.70" y="691.52" width="11.45" height="7.74" fill="#000534"/>
<rect x="21.85" y="691.52" width="11.45" height="7.74" fill="#001474"/>
<rect x="33.00" y="691.52" width="11.45" height="7.74" fill="#000534"/>
<rect x="44.15" y="691.52" width="11.45" height="7.74" fill="#000a56"/>
<rect x="55.30" y="691.52" width="11.45" height="7.74" fill="#86860c"/>
<rect x="66.45" y="691.52" width="11.45" height="7.74" fill="#313104"/>
<rect x="77.60" y="691.52" width="11.45" height="7.74" fill="#c1c111"/>
<rect x="88.75" y="691.52" width="11.45" height="7.74" fill="#4c4c06"/>
<rect x="99.90" y="691.52" width="11.45" height="7.74" fill="#e0e014"/>
<rect x="111.05" y="691.52" width="11.45" height="7.74" fill="#4c4c06"/>
<rect x="122.20" y="691.52" width="11.45" height="7.74" fill="#86860c"/>
<rect x="133.35" y="691.52" width="11.45" height="7.74" fill="#e0e014"/>
<rect x="144.50" y="691.52" width="11.45" height="7.74" fill="#040404"/>
<rect x="155.65" y="691.52" width="11.45" height="7.74" fill="#c1c111"/>
<rect x="166.80" y="691.52" width="11.45" height="7.74" fill="#86860c"/>
<rect x="177.95" y="691.52" width="11.45" height="7.74" fill="#000534"/>
<rect x="189.10" y="691.52" width="11.45" height="7.74" fill="#c1c111"/>
<rect x="200.25" y="691.52" width="11.45" height="7.74" fill="#001474"/>
<rect x="211.40" y="691.52" width="11.45" height="7.74" fill="#4c4c06"/>
<rect x="222.55" y="691.52" width="11.45" height="7.74" fill="#040404"/>
<rect x="233.70" y="691.52" width="11.45" height="7.74" fill="#000a56"/>
<rect x="244.85" y="691.52" width="11.45" height="7.74" fill="#000a56"/>
<rect x="256.00" y="691.52" width="11.45" height="7.74" fill="#000534"/>
<rect x="267.15" y="691.52" width="11.45" height="7.74" fill="#171702"/>
<rect x="278.30" y="691.52" width="11.45" height="7.74" fill="#0a32ca"/>
<rect x="289.45" y="691.52" width="11.45" height="7.74" fill="#001474"/>
<rect x="300.60" y="691.52" width="11.45" height="7.74" fill="#001474"/>
<rect x="311.75" y="691.52" width="11.45" height="7.74" fill="#000a56"/>
<rect x="322.90" y="691.52" width="11.45" height="7.74" fill="#00001a"/>
<rect x="334.05" y="691.52" width="11.45" height="7.74" fill="#4c4c06"/>
<rect x="10.70" y="698.96" width="11.45" height="7.74" fill="#00001a"/>
<rect x="21.85" y="698.96" width="11.45" height="7.74" fill="#001474"/>
<rect x="33.00" y="698.96" width="11.45" height="7.74" fill="#000534"/>
<rect x="44.15" y="698.96" width="11.45" height="7.74" fill="#0a32ca"/>
<rect x="55.30" y="698.96" width="11.45" height="7.74" fill="#696909"/>
<rect x="66.45" y="698.96" width="11.45" height="7.74" fill="#040404"/>
<rect x="77.60" y="698.96" width="11.45" height="7.74" fill="#a3a30e"/>
<rect x="88.75" y="698.96" width="11.45" height="7.74" fill="#a3a30e"/>
<rect x="99.90" y="698.96" width="11.45" height="7.74" fill="#ffff16"/>
<rect x="111.05" y="698.96" width="11.45" height="7.74" fill="#4c4c06"/>
<rect x="122.20" y="698.96" width="11.45" height="7.74" fill="#c1c111"/>
<rect x="133.35" y="698.96" width="11.45" height="7.74" fill="#c1c111"/>
<rect x="144.50" y="698.96" width="11.45" height="7.74" fill="#4c4c06"/>
<rect x="155.65" y="698.96" width="11.45" height="7.74" fill="#e0e014"/>
<rect x="166.80" y="698.96" width="11.45" height="7.74" fill="#313104"/>
<rect x="177.95" y="698.96" width="11.45" height="7.74" fill="#040404"/>
<rect x="189.10" y="698.96" width="11.45" height="7.74" fill="#040404"/>
<rect x="200.25" y="698.96" width="11.45" height="7.74" fill="#313104"/>
<rect x="211.40" y="698.96" width="11.45" height="7.74" fill="#00001a"/>
<rect x="222.55" y="698.96" width="11.45" height="7.74" fill="#000534"/>
<rect x="233.70" y="698.96" width="11.45" height="7.74" fill="#000534"/>
<rect x="244.85" y="698.96" width="11.45" height="7.74" fill="#040404"/>
<rect x="256.00" y="698.96" width="11.45" height="7.74" fill="#051e94"/>
<rect x="267.15" y="698.96" width="11.45" height="7.74" fill="#4c4c06"/>
<rect x="278.30" y="698.96" width="11.45" height="7.74" fill="#0c3ce8"/>
<rect x="289.45" y="698.96" width="11.45" height="7.74" fill="#0a32ca"/>
<rect x="300.60" y="698.96" width="11.45" height="7.74" fill="#0a32ca"/>
<rect x="311.75" y="698.96" width="11.45" height="7.74" fill="#000a56"/>
<rect x="322.90" y="698.96" width="11.45" height="7.74" fill="#00001a"/>
<rect x="334.05" y="698.96" width="11.45" height="7.74" fill="#696909"/>
<rect x="10.70" y="706.40" width="11.45" height="7.74" fill="#000534"/>
<rect x="21.85" y="706.40" width="11.45" height="7.74" fill="#0c3ce8"/>
<rect x="33.00" y="706.40" width="11.45" height="7.74" fill="#051e94"/>
<rect x="44.15" y="706.40" width="11.45" height="7.74" fill="#040404"/>
<rect x="55.30" y="706.40" width="11.45" height="7.74" fill="#000534"/>
<rect x="66.45" y="706.40" width="11.45" height="7.74" fill="#4c4c06"/>
<rect x="77.60" y="706.40" width="11.45" height="7.74" fill="#ffff16"/>
<rect x="88.75" y="706.40" width="11.45" height="7.74" fill="#c1c111"/>
<rect x="99.90" y="706.40" width="11.45" height="7.74" fill="#ffff16"/>
<rect x="111.05" y="706.40" width="11.45" height="7.74" fill="#171702"/>
<rect x="122.20" y="706.40" width="11.45" height="7.74" fill="#c1c111"/>
<rect x="133.35" y="706.40" width="11.45" height="7.74" fill="#a3a30e"/>
<rect x="144.50" y="706.40" width="11.45" height="7.74" fill="#c1c111"/>
<rect x="155.65" y="706.40" width="11.45" height="7.74" fill="#e0e014"/>
<rect x="166.80" y="706.40" width="11.45" height="7.74" fill="#313104"/>
<rect x="177.95" y="706.40" width="11.45" height="7.74" fill="#0528ac"/>
<rect x="189.10" y="706.40" width="11.45" height="7.74" fill="#86860c"/>
<rect x="200.25" y="706.40" width="11.45" height="7.74" fill="#000534"/>
<rect x="211.40" y="706.40" width="11.45" height="7.74" fill="#00001a"/>
<rect x="222.55" y="706.40" width="11.45" height="7.74" fill="#313104"/>
<rect x="233.70" y="706.40" width="11.45" height="7.74" fill="#000a56"/>
<rect x="244.85" y="706.40" width="11.45" height="7.74" fill="#4c4c06"/>
<rect x="256.00" y="706.40" width="11.45" height="7.74" fill="#001474"/>
<rect x="267.15" y="706.40" width="11.45" height="7.74" fill="#000534"/>
<rect x="278.30" y="706.40" width="11.45" height="7.74" fill="#0528ac"/>
<rect x="289.45" y="706.40" width="11.45" height="7.74" fill="#051e94"/>
<rect x="300.60" y="706.40" width="11.45" height="7.74" fill="#051e94"/>
<rect x="311.75" y="706.40" width="11.45" height="7.74" fill="#0528ac"/>
<rect x="322.90" y="706.40" width="11.45" height="7.74" fill="#040404"/>
<rect x="334.05" y="706.40" width="11.45" height="7.74" fill="#313104"/>
<rect x="10.70" y="713.84" width="11.45" height="7.74" fill="#000534"/>
<rect x="21.85" y="713.84" width="11.45" height="7.74" fill="#a3a30e"/>
<rect x="33.00" y="713.84" width="11.45" height="7.74" fill="#313104"/>
<rect x="44.15" y="713.84" width="11.45" height="7.74" fill="#000534"/>
<rect x="55.30" y="713.84" width="11.45" height="7.74" fill="#c1c111"/>
<rect x="66.45" y="713.84" width="11.45" height="7.74" fill="#ffff16"/>
<rect x="77.60" y="713.84" width="11.45" height="7.74" fill="#ffff16"/>
<rect x="88.75" y="713.84" width="11.45" height="7.74" fill="#313104"/>
<rect x="99.90" y="713.84" width="11.45" height="7.74" fill="#040404"/>
<rect x="111.05" y="713.84" width="11.45" height="7.74" fill="#171702"/>
<rect x="122.20" y="713.84" width="11.45" height="7.74" fill="#e0e014"/>
<rect x="133.35" y="713.84" width="11.45" height="7.74" fill="#040404"/>
<rect x="144.50" y="713.84" width="11.45" height="7.74" fill="#a3a30e"/>
<rect x="155.65" y="713.84" width="11.45" height="7.74" fill="#313104"/>
<rect x="166.80" y="713.84" width="11.45" height="7.74" fill="#ffff16"/>
<rect x="177.95" y="713.84" width="11.45" height="7.74" fill="#171702"/>
<rect x="189.10" y="713.84" width="11.45" height="7.74" fill="#0528ac"/>
<rect x="200.25" y="713.84" width="11.45" height="7.74" fill="#00001a"/>
<rect x="211.40" y="713.84" width="11.45" height="7.74" fill="#00001a"/>
<rect x="222.55" y="713.84" width="11.45" height="7.74" fill="#0a32ca"/>
<rect x="233.70" y="713.84" width="11.45" height="7.74" fill="#0c3ce8"/>
<rect x="244.85" y="713.84" width="11.45" height="7.74" fill="#0c3ce8"/>
<rect x="256.00" y="713.84" width="11.45" height="7.74" fill="#0c3ce8"/>
<rect x="267.15" y="713.84" width="11.45" height="7.74" fill="#000a56"/>
<rect x="278.30" y="713.84" width="11.45" height="7.74" fill="#0c3ce8"/>
<rect x="289.45" y="713.84" width="11.45" height="7.74" fill="#0c3ce8"/>
<rect x="300.60" y="713.84" width="11.45" height="7.74" fill="#0c3ce8"/>
<rect x="311.75" y="713.84" width="11.45" height="7.74" fill="#0528ac"/>
<rect x="322.90" y="713.84" width="11.45" height="7.74" fill="#a3a30e"/>
<rect x="334.05" y="713.84" width="11.45" height="7.74" fill="#696909"/>
<rect x="10.70" y="721.28" width="11.45" height="7.74" fill="#171702"/>
<rect x="21.85" y="721.28" width="11.45" height="7.74" fill="#ffff16"/>
<rect x="33.00" y="721.28" width="11.45" height="7.74" fill="#001474"/>
<rect x="44.15" y="721.28" width="11.45" height="7.74" fill="#171702"/>
<rect x="55.30" y="721.28" width="11.45" height="7.74" fill="#ffff16"/>
<rect x="66.45" y="721.28" width="11.45" height="7.74" fill="#ffff16"/>
<rect x="77.60" y="721.28" width="11.45" height="7.74" fill="#ffff16"/>
<rect x="88.75" y="721.28" width="11.45" height="7.74" fill="#4c4c06"/>
<rect x="99.90" y="721.28" width="11.45" height="7.74" fill="#86860c"/>
<rect x="111.05" y="721.28" width="11.45" height="7.74" fill="#313104"/>
<rect x="122.20" y="721.28" width="11.45" height="7.74" fill="#ffff16"/>
<rect x="133.35" y="721.28" width="11.45" height="7.74" fill="#e0e014"/>
<rect x="144.50" y="721.28" width="11.45" height="7.74" fill="#a3a30e"/>
<rect x="155.65" y="721.28" width="11.45" height="7.74" fill="#040404"/>
<rect x="166.80" y="721.28" width="11.45" height="7.74" fill="#ffff16"/>
<rect x="177.95" y="721.28" width="11.45" height="7.74" fill="#171702"/>
<rect x="189.10" y="721.28" width="11.45" height="7.74" fill="#0528ac"/>
<rect x="200.25" y="721.28" width="11.45" height="7.74" fill="#000534"/>
<rect x="211.40" y="721.28" width="11.45" height="7.74" fill="#00001a"/>
<rect x="222.55" y="721.28" width="11.45" height="7.74" fill="#051e94"/>
<rect x="233.70" y="721.28" width="11.45" height="7.74" fill="#051e94"/>
<rect x="244.85" y="721.28" width="11.45" height="7.74" fill="#0c3ce8"/>
<rect x="256.00" y="721.28" width="11.45" height="7.74" fill="#001474"/>
<rect x="267.15" y="721.28" width="11.45" height="7.74" fill="#001474"/>
<rect x="278.30" y="721.28" width="11.45" height="7.74" fill="#0c3ce8"/>
<rect x="289.45" y="721.28" width="11.45" height="7.74" fill="#0c3ce8"/>
<rect x="300.60" y="721.28" width="11.45" height="7.74" fill="#0c3ce8"/>
<rect x="311.75" y="721.28" width="11.45" height="7.74" fill="#0528ac"/>
<rect x="322.90" y="721.28" width="11.45" height="7.74" fill="#00001a"/>
<rect x="334.05" y="721.28" width="11.45" height="7.74" fill="#86860c"/>
<rect x="10.70" y="728.72" width="11.45" height="7.74" fill="#171702"/>
<rect x="21.85" y="728.72" width="11.45" height="7.74" fill="#ffff16"/>
<rect x="33.00" y="728.72" width="11.45" height="7.74" fill="#a3a30e"/>
<rect x="44.15" y="728.72" width="11.45" height="7.74" fill="#696909"/>
<rect x="55.30" y="728.72" width="11.45" height="7.74" fill="#e0e014"/>
<rect x="66.45" y="728.72" width="11.45" height="7.74" fill="#ffff16"/>
<rect x="77.60" y="728.72" width="11.45" height="7.74" fill="#ffff16"/>
<rect x="88.75" y="728.72" width="11.45" height="7.74" fill="#e0e014"/>
<rect x="99.90" y="728.72" width="11.45" height="7.74" fill="#040404"/>
<rect x="111.05" y="728.72" width="11.45" height="7.74" fill="#4c4c06"/>
<rect x="122.20" y="728.72" width="11.45" height="7.74" fill="#a3a30e"/>
<rect x="133.35" y="728.72" width="11.45" height="7.74" fill="#86860c"/>
<rect x="144.50" y="728.72" width="11.45" height="7.74" fill="#00001a"/>
<rect x="155.65" y="728.72" width="11.45" height="7.74" fill="#171702"/>
<rect x="166.80" y="728.72" width="11.45" height="7.74" fill="#ffff16"/>
<rect x="177.95" y="728.72" width="11.45" height="7.74" fill="#040404"/>
<rect x="189.10" y="728.72" width="11.45" height="7.74" fill="#000534"/>
<rect x="200.25" y="728.72" width="11.45" height="7.74" fill="#00001a"/>
<rect x="211.40" y="728.72" width="11.45" height="7.74" fill="#001474"/>
<rect x="222.55" y="728.72" width="11.45" height="7.74" fill="#000a56"/>
<rect x="233.70" y="728.72" width="11.45" height="7.74" fill="#000a56"/>
<rect x="244.85" y="728.72" width="11.45" height="7.74" fill="#0c3ce8"/>
<rect x="256.00" y="728.72" width="11.45" height="7.74" fill="#0c3ce8"/>
<rect x="267.15" y="728.72" width="11.45" height="7.74" fill="#040404"/>
<rect x="278.30" y="728.72" width="11.45" height="7.74" fill="#0c3ce8"/>
<rect x="289.45" y="728.72" width="11.45" height="7.74" fill="#0c3ce8"/>
<rect x="300.60" y="728.72" width="11.45" height="7.74" fill="#001474"/>
<rect x="311.75" y="728.72" width="11.45" height="7.74" fill="#00001a"/>
<rect x="322.90" y="728.72" width="11.45" height="7.74" fill="#000534"/>
<rect x="334.05" y="728.72" width="11.45" height="7.74" fill="#040404"/>
<rect x="10.70" y="736.16" width="11.45" height="7.74" fill="#c1c111"/>
<rect x="21.85" y="736.16" width="11.45" height="7.74" fill="#c1c111"/>
<rect x="33.00" y="736.16" width="11.45" height="7.74" fill="#86860c"/>
<rect x="44.15" y="736.16" width="11.45" height="7.74" fill="#ffff16"/>
<rect x="55.30" y="736.16" width="11.45" height="7.74" fill="#a3a30e"/>
<rect x="66.45" y="736.16" width="11.45" height="7.74" fill="#ffff16"/>
<rect x="77.60" y="736.16" width="11.45" height="7.74" fill="#ffff16"/>
<rect x="88.75" y="736.16" width="11.45" height="7.74" fill="#696909"/>
<rect x="99.90" y="736.16" width="11.45" height="7.74" fill="#171702"/>
<rect x="111.05" y="736.16" width="11.45" height="7.74" fill="#313104"/>
<rect x="122.20" y="736.16" width="11.45" height="7.74" fill="#a3a30e"/>
<rect x="133.35" y="736.16" width="11.45" height="7.74" fill="#86860c"/>
<rect x="144.50" y="736.16" width="11.45" height="7.74" fill="#00001a"/>
<rect x="155.65" y="736.16" width="11.45" height="7.74" fill="#e0e014"/>
<rect x="166.80" y="736.16" width="11.45" height="7.74" fill="#ffff16"/>
<rect x="177.95" y="736.16" width="11.45" height="7.74" fill="#001474"/>
<rect x="189.10" y="736.16" width="11.45" height="7.74" fill="#313104"/>
<rect x="200.25" y="736.16" width="11.45" height="7.74" fill="#000534"/>
<rect x="211.40" y="736.16" width="11.45" height="7.74" fill="#000a56"/>
<rect x="222.55" y="736.16" width="11.45" height="7.74" fill="#0a32ca"/>
<rect x="233.70" y="736.16" width="11.45" height="7.74" fill="#0a32ca"/>
<rect x="244.85" y="736.16" width="11.45" height="7.74" fill="#0c3ce8"/>
<rect x="256.00" y="736.16" width="11.45" height="7.74" fill="#0c3ce8"/>
<rect x="267.15" y="736.16" width="11.45" height="7.74" fill="#051e94"/>
<rect x="278.30" y="736.16" width="11.45" height="7.74" fill="#000a56"/>
<rect x="289.45" y="736.16" width="11.45" height="7.74" fill="#000a56"/>
<rect x="300.60" y="736.16" width="11.45" height="7.74" fill="#000a56"/>
<rect x="311.75" y="736.16" width="11.45" height="7.74" fill="#001474"/>
<rect x="322.90" y="736.16" width="11.45" height="7.74" fill="#001474"/>
<rect x="334.05" y="736.16" width="11.45" height="7.74" fill="#000a56"/>
<rect x="10.70" y="743.60" width="11.45" height="7.74" fill="#000a56"/>
<rect x="21.85" y="743.60" width="11.45" height="7.74" fill="#86860c"/>
<rect x="33.00" y="743.60" width="11.45" height="7.74" fill="#171702"/>
<rect x="44.15" y="743.60" width="11.45" height="7.74" fill="#a3a30e"/>
<rect x="55.30" y="743.60" width="11.45" height="7.74" fill="#ffff16"/>
<rect x="66.45" y="743.60" width="11.45" height="7.74" fill="#ffff16"/>
<rect x="77.60" y="743.60" width="11.45" height="7.74" fill="#ffff16"/>
<rect x="88.75" y="743.60" width="11.45" height="7.74" fill="#040404"/>
<rect x="99.90" y="743.60" width="11.45" height="7.74" fill="#ffff16"/>
<rect x="111.05" y="743.60" width="11.45" height="7.74" fill="#4c4c06"/>
<rect x="122.20" y="743.60" width="11.45" height="7.74" fill="#e0e014"/>
<rect x="133.35" y="743.60" width="11.45" height="7.74" fill="#ffff16"/>
<rect x="144.50" y="743.60" width="11.45" height="7.74" fill="#696909"/>
<rect x="155.65" y="743.60" width="11.45" height="7.74" fill="#e0e014"/>
<rect x="166.80" y="743.60" width="11.45" height="7.74" fill="#ffff16"/>
<rect x="177.95" y="743.60" width="11.45" height="7.74" fill="#00001a"/>
<rect x="189.10" y="743.60" width="11.45" height="7.74" fill="#000534"/>
<rect x="200.25" y="743.60" width="11.45" height="7.74" fill="#000534"/>
<rect x="211.40" y="743.60" width="11.45" height="7.74" fill="#001474"/>
<rect x="222.55" y="743.60" width="11.45" height="7.74" fill="#0a32ca"/>
<rect x="233.70" y="743.60" width="11.45" height="7.74" fill="#0c3ce8"/>
<rect x="244.85" y="743.60" width="11.45" height="7.74" fill="#0c3ce8"/>
<rect x="256.00" y="743.60" width="11.45" height="7.74" fill="#0c3ce8"/>
<rect x="267.15" y="743.60" width="11.45" height="7.74" fill="#001474"/>
<rect x="278.30" y="743.60" width="11.45" height="7.74" fill="#051e94"/>
<rect x="289.45" y="743.60" width="11.45" height="7.74" fill="#051e94"/>
<rect x="300.60" y="743.60" width="11.45" height="7.74" fill="#0528ac"/>
<rect x="311.75" y="743.60" width="11.45" height="7.74" fill="#000a56"/>
<rect x="322.90" y="743.60" width="11.45" height="7.74" fill="#000a56"/>
<rect x="334.05" y="743.60" width="11.45" height="7.74" fill="#4c4c06"/>
<rect x="10.70" y="751.04" width="11.45" height="7.74" fill="#171702"/>
<rect x="21.85" y="751.04" width="11.45" height="7.74" fill="#c1c111"/>
<rect x="33.00" y="751.04" width="11.45" height="7.74" fill="#696909"/>
<rect x="44.15" y="751.04" width="11.45" height="7.74" fill="#ffff16"/>
<rect x="55.30" y="751.04" width="11.45" height="7.74" fill="#c1c111"/>
<rect x="66.45" y="751.04" width="11.45" height="7.74" fill="#ffff16"/>
<rect x="77.60" y="751.04" width="11.45" height="7.74" fill="#ffff16"/>
<rect x="88.75" y="751.04" width="11.45" height="7.74" fill="#a3a30e"/>
<rect x="99.90" y="751.04" width="11.45" height="7.74" fill="#c1c111"/>
<rect x="111.05" y="751.04" width="11.45" height="7.74" fill="#696909"/>
<rect x="122.20" y="751.04" width="11.45" height="7.74" fill="#e0e014"/>
<rect x="133.35" y="751.04" width="11.45" height="7.74" fill="#e0e014"/>
<rect x="144.50" y="751.04" width="11.45" height="7.74" fill="#313104"/>
<rect x="155.65" y="751.04" width="11.45" height="7.74" fill="#a3a30e"/>
<rect x="166.80" y="751.04" width="11.45" height="7.74" fill="#ffff16"/>
<rect x="177.95" y="751.04" width="11.45" height="7.74" fill="#00001a"/>
<rect x="189.10" y="751.04" width="11.45" height="7.74" fill="#001474"/>
<rect x="200.25" y="751.04" width="11.45" height="7.74" fill="#001474"/>
<rect x="211.40" y="751.04" width="11.45" height="7.74" fill="#000534"/>
<rect x="222.55" y="751.04" width="11.45" height="7.74" fill="#0528ac"/>
<rect x="233.70" y="751.04" width="11.45" height="7.74" fill="#0c3ce8"/>
<rect x="244.85" y="751.04" width="11.45" height="7.74" fill="#0c3ce8"/>
<rect x="256.00" y="751.04" width="11.45" height="7.74" fill="#0528ac"/>
<rect x="267.15" y="751.04" width="11.45" height="7.74" fill="#000a56"/>
<rect x="278.30" y="751.04" width="11.45" height="7.74" fill="#051e94"/>
<rect x="289.45" y="751.04" width="11.45" height="7.74" fill="#051e94"/>
<rect x="300.60" y="751.04" width="11.45" height="7.74" fill="#0a32ca"/>
<rect x="311.75" y="751.04" width="11.45" height="7.74" fill="#0528ac"/>
<rect x="322.90" y="751.04" width="11.45" height="7.74" fill="#000a56"/>
<rect x="334.05" y="751.04" width="11.45" height="7.74" fill="#000a56"/>
<rect x="10.70" y="758.48" width="11.45" height="7.74" fill="#e0e014"/>
<rect x="21.85" y="758.48" width="11.45" height="7.74" fill="#00001a"/>
<rect x="33.00" y="758.48" width="11.45" height="7.74" fill="#313104"/>
<rect x="44.15" y="758.48" width="11.45" height="7.74" fill="#040404"/>
<rect x="55.30" y="758.48" width="11.45" height="7.74" fill="#696909"/>
<rect x="66.45" y="758.48" width="11.45" height="7.74" fill="#c1c111"/>
<rect x="77.60" y="758.48" width="11.45" height="7.74" fill="#ffff16"/>
<rect x="88.75" y="758.48" width="11.45" height="7.74" fill="#040404"/>
<rect x="99.90" y="758.48" width="11.45" height="7.74" fill="#c1c111"/>
<rect x="111.05" y="758.48" width="11.45" height="7.74" fill="#696909"/>
<rect x="122.20" y="758.48" width="11.45" height="7.74" fill="#e0e014"/>
<rect x="133.35" y="758.48" width="11.45" height="7.74" fill="#e0e014"/>
<rect x="144.50" y="758.48" width="11.45" height="7.74" fill="#313104"/>
<rect x="155.65" y="758.48" width="11.45" height="7.74" fill="#86860c"/>
<rect x="166.80" y="758.48" width="11.45" height="7.74" fill="#e0e014"/>
<rect x="177.95" y="758.48" width="11.45" height="7.74" fill="#0528ac"/>
<rect x="189.10" y="758.48" width="11.45" height="7.74" fill="#86860c"/>
<rect x="200.25" y="758.48" width="11.45" height="7.74" fill="#000a56"/>
<rect x="211.40" y="758.48" width="11.45" height="7.74" fill="#313104"/>
<rect x="222.55" y="758.48" width="11.45" height="7.74" fill="#051e94"/>
<rect x="233.70" y="758.48" width="11.45" height="7.74" fill="#0c3ce8"/>
<rect x="244.85" y="758.48" width="11.45" height="7.74" fill="#0c3ce8"/>
<rect x="256.00" y="758.48" width="11.45" height="7.74" fill="#051e94"/>
<rect x="267.15" y="758.48" width="11.45" height="7.74" fill="#051e94"/>
<rect x="278.30" y="758.48" width="11.45" height="7.74" fill="#001474"/>
<rect x="289.45" y="758.48" width="11.45" height="7.74" fill="#00001a"/>
<rect x="300.60" y="758.48" width="11.45" height="7.74" fill="#0a32ca"/>
<rect x="311.75" y="758.48" width="11.45" height="7.74" fill="#0528ac"/>
<rect x="322.90" y="758.48" width="11.45" height="7.74" fill="#00001a"/>
<rect x="334.05" y="758.48" width="11.45" height="7.74" fill="#00001a"/>
<rect x="10.70" y="765.92" width="11.45" height="7.74" fill="#ffff16"/>
<rect x="21.85" y="765.92" width="11.45" height="7.74" fill="#e0e014"/>
<rect x="33.00" y="765.92" width="11.45" height="7.74" fill="#696909"/>
<rect x="44.15" y="765.92" width="11.45" height="7.74" fill="#ffff16"/>
<rect x="55.30" y="765.92" width="11.45" height="7.74" fill="#86860c"/>
<rect x="66.45" y="765.92" width="11.45" height="7.74" fill="#ffff16"/>
<rect x="77.60" y="765.92" width="11.45" height="7.74" fill="#ffff16"/>
<rect x="88.75" y="765.92" width="11.45" height="7.74" fill="#e0e014"/>
<rect x="99.90" y="765.92" width="11.45" height="7.74" fill="#e0e014"/>
<rect x="111.05" y="765.92" width="11.45" height="7.74" fill="#a3a30e"/>
<rect x="122.20" y="765.92" width="11.45" height="7.74" fill="#c1c111"/>
<rect x="133.35" y="765.92" width="11.45" height="7.74" fill="#c1c111"/>
<rect x="144.50" y="765.92" width="11.45" height="7.74" fill="#171702"/>
<rect x="155.65" y="765.92" width="11.45" height="7.74" fill="#171702"/>
<rect x="166.80" y="765.92" width="11.45" height="7.74" fill="#ffff16"/>
<rect x="177.95" y="765.92" width="11.45" height="7.74" fill="#000a56"/>
<rect x="189.10" y="765.92" width="11.45" height="7.74" fill="#0a32ca"/>
<rect x="200.25" y="765.92" width="11.45" height="7.74" fill="#0a32ca"/>
<rect x="211.40" y="765.92" width="11.45" height="7.74" fill="#001474"/>
<rect x="222.55" y="765.92" width="11.45" height="7.74" fill="#0528ac"/>
<rect x="233.70" y="765.92" width="11.45" height="7.74" fill="#0a32ca"/>
<rect x="244.85" y="765.92" width="11.45" height="7.74" fill="#0c3ce8"/>
<rect x="256.00" y="765.92" width="11.45" height="7.74" fill="#001474"/>
<rect x="267.15" y="765.92" width="11.45" height="7.74" fill="#000534"/>
<rect x="278.30" y="765.92" width="11.45" height="7.74" fill="#0a32ca"/>
<rect x="289.45" y="765.92" width="11.45" height="7.74" fill="#0c3ce8"/>
<rect x="300.60" y="765.92" width="11.45" height="7.74" fill="#0c3ce8"/>
<rect x="311.75" y="765.92" width="11.45" height="7.74" fill="#0528ac"/>
<rect x="322.90" y="765.92" width="11.45" height="7.74" fill="#00001a"/>
<rect x="334.05" y="765.92" width="11.45" height="7.74" fill="#00001a"/>
<rect x="10.70" y="773.36" width="11.45" height="7.74" fill="#c1c111"/>
<rect x="21.85" y="773.36" width="11.45" height="7.74" fill="#c1c111"/>
<rect x="33.00" y="773.36" width="11.45" height="7.74" fill="#000a56"/>
<rect x="44.15" y="773.36" width="11.45" height="7.74" fill="#000a56"/>
<rect x="55.30" y="773.36" width="11.45" height="7.74" fill="#ffff16"/>
<rect x="66.45" y="773.36" width="11.45" height="7.74" fill="#040404"/>
<rect x="77.60" y="773.36" width="11.45" height="7.74" fill="#000a56"/>
<rect x="88.75" y="773.36" width="11.45" height="7.74" fill="#a3a30e"/>
<rect x="99.90" y="773.36" width="11.45" height="7.74" fill="#ffff16"/>
<rect x="111.05" y="773.36" width="11.45" height="7.74" fill="#171702"/>
<rect x="122.20" y="773.36" width="11.45" height="7.74" fill="#ffff16"/>
<rect x="133.35" y="773.36" width="11.45" height="7.74" fill="#a3a30e"/>
<rect x="144.50" y="773.36" width="11.45" height="7.74" fill="#040404"/>
<rect x="155.65" y="773.36" width="11.45" height="7.74" fill="#313104"/>
<rect x="166.80" y="773.36" width="11.45" height="7.74" fill="#171702"/>
<rect x="177.95" y="773.36" width="11.45" height="7.74" fill="#00001a"/>
<rect x="189.10" y="773.36" width="11.45" height="7.74" fill="#313104"/>
<rect x="200.25" y="773.36" width="11.45" height="7.74" fill="#051e94"/>
<rect x="211.40" y="773.36" width="11.45" height="7.74" fill="#040404"/>
<rect x="222.55" y="773.36" width="11.45" height="7.74" fill="#00001a"/>
<rect x="233.70" y="773.36" width="11.45" height="7.74" fill="#00001a"/>
<rect x="244.85" y="773.36" width="11.45" height="7.74" fill="#051e94"/>
<rect x="256.00" y="773.36" width="11.45" height="7.74" fill="#001474"/>
<rect x="267.15" y="773.36" width="11.45" height="7.74" fill="#000a56"/>
<rect x="278.30" y="773.36" width="11.45" height="7.74" fill="#0528ac"/>
<rect x="289.45" y="773.36" width="11.45" height="7.74" fill="#696909"/>
<rect x="300.60" y="773.36" width="11.45" height="7.74" fill="#00001a"/>
<rect x="311.75" y="773.36" width="11.45" height="7.74" fill="#001474"/>
<rect x="322.90" y="773.36" width="11.45" height="7.74" fill="#86860c"/>
<rect x="334.05" y="773.36" width="11.45" height="7.74" fill="#696909"/>
<rect x="10.70" y="780.80" width="11.45" height="7.74" fill="#0a32ca"/>
<rect x="21.85" y="780.80" width="11.45" height="7.74" fill="#000534"/>
<rect x="33.00" y="780.80" width="11.45" height="7.74" fill="#00001a"/>
<rect x="44.15" y="780.80" width="11.45" height="7.74" fill="#00001a"/>
<rect x="55.30" y="780.80" width="11.45" height="7.74" fill="#000534"/>
<rect x="66.45" y="780.80" width="11.45" height="7.74" fill="#000534"/>
<rect x="77.60" y="780.80" width="11.45" height="7.74" fill="#171702"/>
<rect x="88.75" y="780.80" width="11.45" height="7.74" fill="#040404"/>
<rect x="99.90" y="780.80" width="11.45" height="7.74" fill="#ffff16"/>
<rect x="111.05" y="780.80" width="11.45" height="7.74" fill="#4c4c06"/>
<rect x="122.20" y="780.80" width="11.45" height="7.74" fill="#313104"/>
<rect x="133.35" y="780.80" width="11.45" height="7.74" fill="#a3a30e"/>
<rect x="144.50" y="780.80" width="11.45" height="7.74" fill="#040404"/>
<rect x="155.65" y="780.80" width="11.45" height="7.74" fill="#313104"/>
<rect x="166.80" y="780.80" width="11.45" height="7.74" fill="#313104"/>
<rect x="177.95" y="780.80" width="11.45" height="7.74" fill="#313104"/>
<rect x="189.10" y="780.80" width="11.45" height="7.74" fill="#86860c"/>
<rect x="200.25" y="780.80" width="11.45" height="7.74" fill="#a3a30e"/>
<rect x="211.40" y="780.80" width="11.45" height="7.74" fill="#313104"/>
<rect x="222.55" y="780.80" width="11.45" height="7.74" fill="#040404"/>
<rect x="233.70" y="780.80" width="11.45" height="7.74" fill="#00001a"/>
<rect x="244.85" y="780.80" width="11.45" height="7.74" fill="#000534"/>
<rect x="256.00" y="780.80" width="11.45" height="7.74" fill="#001474"/>
<rect x="267.15" y="780.80" width="11.45" height="7.74" fill="#696909"/>
<rect x="278.30" y="780.80" width="11.45" height="7.74" fill="#051e94"/>
<rect x="289.45" y="780.80" width="11.45" height="7.74" fill="#0a32ca"/>
<rect x="300.60" y="780.80" width="11.45" height="7.74" fill="#0528ac"/>
<rect x="311.75" y="780.80" width="11.45" height="7.74" fill="#000a56"/>
<rect x="322.90" y="780.80" width="11.45" height="7.74" fill="#000a56"/>
<rect x="334.05" y="780.80" width="11.45" height="7.74" fill="#0a32ca"/>
<rect x="10.70" y="788.24" width="11.45" height="7.74" fill="#051e94"/>
<rect x="21.85" y="788.24" width="11.45" height="7.74" fill="#040404"/>
<rect x="33.00" y="788.24" width="11.45" height="7.74" fill="#00001a"/>
<rect x="44.15" y="788.24" width="11.45" height="7.74" fill="#a3a30e"/>
<rect x="55.30" y="788.24" width="11.45" height="7.74" fill="#000534"/>
<rect x="66.45" y="788.24" width="11.45" height="7.74" fill="#000534"/>
<rect x="77.60" y="788.24" width="11.45" height="7.74" fill="#4c4c06"/>
<rect x="88.75" y="788.24" width="11.45" height="7.74" fill="#040404"/>
<rect x="99.90" y="788.24" width="11.45" height="7.74" fill="#040404"/>
<rect x="111.05" y="788.24" width="11.45" height="7.74" fill="#696909"/>
<rect x="122.20" y="788.24" width="11.45" height="7.74" fill="#c1c111"/>
<rect x="133.35" y="788.24" width="11.45" height="7.74" fill="#c1c111"/>
<rect x="144.50" y="788.24" width="11.45" height="7.74" fill="#00001a"/>
<rect x="155.65" y="788.24" width="11.45" height="7.74" fill="#313104"/>
<rect x="166.80" y="788.24" width="11.45" height="7.74" fill="#a3a30e"/>
<rect x="177.95" y="788.24" width="11.45" height="7.74" fill="#86860c"/>
<rect x="189.10" y="788.24" width="11.45" height="7.74" fill="#000a56"/>
<rect x="200.25" y="788.24" width="11.45" height="7.74" fill="#696909"/>
<rect x="211.40" y="788.24" width="11.45" height="7.74" fill="#040404"/>
<rect x="222.55" y="788.24" width="11.45" height="7.74" fill="#040404"/>
<rect x="233.70" y="788.24" width="11.45" height="7.74" fill="#313104"/>
<rect x="244.85" y="788.24" width="11.45" height="7.74" fill="#040404"/>
<rect x="256.00" y="788.24" width="11.45" height="7.74" fill="#0528ac"/>
<rect x="267.15" y="788.24" width="11.45" height="7.74" fill="#313104"/>
<rect x="278.30" y="788.24" width="11.45" height="7.74" fill="#001474"/>
<rect x="289.45" y="788.24" width="11.45" height="7.74" fill="#0a32ca"/>
<rect x="300.60" y="788.24" width="11.45" height="7.74" fill="#0528ac"/>
<rect x="311.75" y="788.24" width="11.45" height="7.74" fill="#000534"/>
<rect x="322.90" y="788.24" width="11.45" height="7.74" fill="#001474"/>
<rect x="334.05" y="788.24" width="11.45" height="7.74" fill="#001474"/>
</g>
<text x="351.8" y="675.6" style='font-family:"Liberation Mono", monospace;fill:#111' font-size="7.9" textLength="30.6" lengthAdjust="spacingAndGlyphs" stroke="#111" stroke-width="0.2">miR-219</text>
<text x="351.8" y="683.0" style='font-family:"Liberation Mono", monospace;fill:#111' font-size="7.9" textLength="30.6" lengthAdjust="spacingAndGlyphs" stroke="#111" stroke-width="0.2">miR-107</text>
<text x="351.8" y="690.4" style='font-family:"Liberation Mono", monospace;fill:#111' font-size="7.9" textLength="35.0" lengthAdjust="spacingAndGlyphs" stroke="#111" stroke-width="0.2">miR-181b</text>
<text x="351.8" y="697.8" style='font-family:"Liberation Mono", monospace;fill:#111' font-size="7.9" textLength="30.6" lengthAdjust="spacingAndGlyphs" stroke="#111" stroke-width="0.2">miR-20a</text>
<text x="351.8" y="705.2" style='font-family:"Liberation Mono", monospace;fill:#111' font-size="7.9" textLength="30.6" lengthAdjust="spacingAndGlyphs" stroke="#111" stroke-width="0.2">miR-15a</text>
<text x="351.8" y="712.6" style='font-family:"Liberation Mono", monospace;fill:#111' font-size="7.9" textLength="30.6" lengthAdjust="spacingAndGlyphs" stroke="#111" stroke-width="0.2">miR-15b</text>
<text x="351.8" y="719.9" style='font-family:"Liberation Mono", monospace;fill:#111' font-size="7.9" textLength="21.9" lengthAdjust="spacingAndGlyphs" stroke="#111" stroke-width="0.2">miR-7</text>
<text x="351.8" y="727.3" style='font-family:"Liberation Mono", monospace;fill:#111' font-size="7.9" textLength="30.6" lengthAdjust="spacingAndGlyphs" stroke="#111" stroke-width="0.2">miR-29c</text>
<text x="351.8" y="734.7" style='font-family:"Liberation Mono", monospace;fill:#111' font-size="7.9" textLength="30.6" lengthAdjust="spacingAndGlyphs" stroke="#111" stroke-width="0.2">miR-27a</text>
<text x="351.8" y="742.1" style='font-family:"Liberation Mono", monospace;fill:#111' font-size="7.9" textLength="35.0" lengthAdjust="spacingAndGlyphs" stroke="#111" stroke-width="0.2">miR-128a</text>
<text x="351.8" y="749.5" style='font-family:"Liberation Mono", monospace;fill:#111' font-size="7.9" textLength="26.2" lengthAdjust="spacingAndGlyphs" stroke="#111" stroke-width="0.2">let-7d</text>
<text x="351.8" y="756.9" style='font-family:"Liberation Mono", monospace;fill:#111' font-size="7.9" textLength="26.2" lengthAdjust="spacingAndGlyphs" stroke="#111" stroke-width="0.2">let-7e</text>
<text x="351.8" y="764.3" style='font-family:"Liberation Mono", monospace;fill:#111' font-size="7.9" textLength="30.6" lengthAdjust="spacingAndGlyphs" stroke="#111" stroke-width="0.2">miR-26b</text>
<text x="351.8" y="771.7" style='font-family:"Liberation Mono", monospace;fill:#111' font-size="7.9" textLength="30.6" lengthAdjust="spacingAndGlyphs" stroke="#111" stroke-width="0.2">miR-19a</text>
<text x="351.8" y="779.1" style='font-family:"Liberation Mono", monospace;fill:#111' font-size="7.9" textLength="35.0" lengthAdjust="spacingAndGlyphs" stroke="#111" stroke-width="0.2">miR-181a</text>
<text x="351.8" y="786.5" style='font-family:"Liberation Mono", monospace;fill:#111' font-size="7.9" textLength="26.2" lengthAdjust="spacingAndGlyphs" stroke="#111" stroke-width="0.2">miR-16</text>
<text x="351.8" y="793.8" style='font-family:"Liberation Mono", monospace;fill:#111' font-size="7.9" textLength="30.6" lengthAdjust="spacingAndGlyphs" stroke="#111" stroke-width="0.2">miR-195</text>
<text transform="translate(21.2,664.5) rotate(-90)" font-size="7.5" textLength="7.8" lengthAdjust="spacingAndGlyphs" style="fill:#2a2a2a">SZ</text>
<text transform="translate(32.4,664.5) rotate(-90)" font-size="7.5" textLength="7.8" lengthAdjust="spacingAndGlyphs" style="fill:#2a2a2a">SZ</text>
<text transform="translate(43.5,664.5) rotate(-90)" font-size="7.5" textLength="7.8" lengthAdjust="spacingAndGlyphs" style="fill:#2a2a2a">SZ</text>
<text transform="translate(54.7,664.5) rotate(-90)" font-size="7.5" textLength="7.8" lengthAdjust="spacingAndGlyphs" style="fill:#2a2a2a">SZ</text>
<text transform="translate(65.8,664.5) rotate(-90)" font-size="7.5" textLength="7.8" lengthAdjust="spacingAndGlyphs" style="fill:#2a2a2a">SZ</text>
<text transform="translate(77.0,664.5) rotate(-90)" font-size="7.5" textLength="7.8" lengthAdjust="spacingAndGlyphs" style="fill:#2a2a2a">SZ</text>
<text transform="translate(88.1,664.5) rotate(-90)" font-size="7.5" textLength="7.8" lengthAdjust="spacingAndGlyphs" style="fill:#2a2a2a">SZ</text>
<text transform="translate(99.2,664.5) rotate(-90)" font-size="7.5" textLength="12.7" lengthAdjust="spacingAndGlyphs" style="fill:#2a2a2a">CTR</text>
<text transform="translate(110.4,664.5) rotate(-90)" font-size="7.5" textLength="7.8" lengthAdjust="spacingAndGlyphs" style="fill:#2a2a2a">SZ</text>
<text transform="translate(121.6,664.5) rotate(-90)" font-size="7.5" textLength="7.8" lengthAdjust="spacingAndGlyphs" style="fill:#2a2a2a">SZ</text>
<text transform="translate(132.7,664.5) rotate(-90)" font-size="7.5" textLength="7.8" lengthAdjust="spacingAndGlyphs" style="fill:#2a2a2a">SZ</text>
<text transform="translate(143.8,664.5) rotate(-90)" font-size="7.5" textLength="12.7" lengthAdjust="spacingAndGlyphs" style="fill:#2a2a2a">CTR</text>
<text transform="translate(155.0,664.5) rotate(-90)" font-size="7.5" textLength="7.8" lengthAdjust="spacingAndGlyphs" style="fill:#2a2a2a">SZ</text>
<text transform="translate(166.2,664.5) rotate(-90)" font-size="7.5" textLength="7.8" lengthAdjust="spacingAndGlyphs" style="fill:#2a2a2a">SZ</text>
<text transform="translate(177.3,664.5) rotate(-90)" font-size="7.5" textLength="7.8" lengthAdjust="spacingAndGlyphs" style="fill:#2a2a2a">SZ</text>
<text transform="translate(188.4,664.5) rotate(-90)" font-size="7.5" textLength="12.7" lengthAdjust="spacingAndGlyphs" style="fill:#2a2a2a">CTR</text>
<text transform="translate(199.6,664.5) rotate(-90)" font-size="7.5" textLength="7.8" lengthAdjust="spacingAndGlyphs" style="fill:#2a2a2a">SZ</text>
<text transform="translate(210.8,664.5) rotate(-90)" font-size="7.5" textLength="12.7" lengthAdjust="spacingAndGlyphs" style="fill:#2a2a2a">CTR</text>
<text transform="translate(221.9,664.5) rotate(-90)" font-size="7.5" textLength="12.7" lengthAdjust="spacingAndGlyphs" style="fill:#2a2a2a">CTR</text>
<text transform="translate(233.0,664.5) rotate(-90)" font-size="7.5" textLength="7.8" lengthAdjust="spacingAndGlyphs" style="fill:#2a2a2a">SZ</text>
<text transform="translate(244.2,664.5) rotate(-90)" font-size="7.5" textLength="12.7" lengthAdjust="spacingAndGlyphs" style="fill:#2a2a2a">CTR</text>
<text transform="translate(255.3,664.5) rotate(-90)" font-size="7.5" textLength="12.7" lengthAdjust="spacingAndGlyphs" style="fill:#2a2a2a">CTR</text>
<text transform="translate(266.5,664.5) rotate(-90)" font-size="7.5" textLength="12.7" lengthAdjust="spacingAndGlyphs" style="fill:#2a2a2a">CTR</text>
<text transform="translate(277.6,664.5) rotate(-90)" font-size="7.5" textLength="12.7" lengthAdjust="spacingAndGlyphs" style="fill:#2a2a2a">CTR</text>
<text transform="translate(288.8,664.5) rotate(-90)" font-size="7.5" textLength="12.7" lengthAdjust="spacingAndGlyphs" style="fill:#2a2a2a">CTR</text>
<text transform="translate(299.9,664.5) rotate(-90)" font-size="7.5" textLength="12.7" lengthAdjust="spacingAndGlyphs" style="fill:#2a2a2a">CTR</text>
<text transform="translate(311.1,664.5) rotate(-90)" font-size="7.5" textLength="12.7" lengthAdjust="spacingAndGlyphs" style="fill:#2a2a2a">CTR</text>
<text transform="translate(322.2,664.5) rotate(-90)" font-size="7.5" textLength="12.7" lengthAdjust="spacingAndGlyphs" style="fill:#2a2a2a">CTR</text>
<text transform="translate(333.4,664.5) rotate(-90)" font-size="7.5" textLength="12.7" lengthAdjust="spacingAndGlyphs" style="fill:#2a2a2a">CTR</text>
<text transform="translate(344.6,664.5) rotate(-90)" font-size="7.5" textLength="12.7" lengthAdjust="spacingAndGlyphs" style="fill:#2a2a2a">CTR</text>
<path d="M29.4 646.3V637.3H40.5V646.3M18.2 646.3V635H34.9V637.3M34.9 634.8H51.7V646.3M30.7 635V632H147.7V636M89.5 632V616.6H270.5V627M126.4 638.9V636H169.6V639.8M100.1 642.2V638.9H151.9V646.3M163.2 646.3V639.8H174.3V646.3M62.8 646.3V643.8H96.2V646.3M71 642.8H81M79.2 641.8H96.2M74.3 645.4H86M74.0 645.4V646.3M85.1 645.4V646.3M107.4 646.3V643H118.6V646.3M96.2 642.2H118.4M129.7 646.3V644H140.8V646.3M118.6 642.5H132.7M185.4 646.3V628.4H204.5V628.4M204.5 628.4V627H337.4V638.7M330.4 646.3V638.7H341.6V646.3M196.6 646.3V633.2H248.6V639.4M223 627V633.2M207.8 646.3V638.4H218.9V646.3M213.3 638.4V633.2M247 639.4H284.3V640.5M254.7 641.6H274.6V646.3M243.8 643.7H263.5M263.5 641.6V646.3M230.0 646.3V645.6H252.3V646.3M241.2 643.7V646.3M270 640.5H303.5V644.8M285.8 646.3V644.8H319.2V646.3M296.9 644.6V646.3M308.1 644.8V646.3" stroke="#2a2a2a" stroke-width="1" fill="none"/>
<path d="M35.4 634.7H43.4M108 642.5H117.6M132.2 644H137.3M204.4 633.2H221M270 638.3H284M292 644.4H298.5M71 642.8H81" stroke="#222" stroke-width="1.5" fill="none"/>
<rect x="10.8" y="806" width="17.5" height="6.5" fill="#1428ff"/>
<rect x="28.2" y="806" width="17.5" height="6.5" fill="#000082"/>
<rect x="45.6" y="806" width="17.5" height="6.5" fill="#050505"/>
<rect x="63.0" y="806" width="17.5" height="6.5" fill="#84840a"/>
<rect x="80.4" y="806" width="17.5" height="6.5" fill="#ffff14"/>
<text x="10.6" y="824" font-size="9.8" font-weight="bold">low</text>
<text x="76.3" y="824" font-size="9.8" font-weight="bold">high</text>
</g>
</svg>
</body></html>
